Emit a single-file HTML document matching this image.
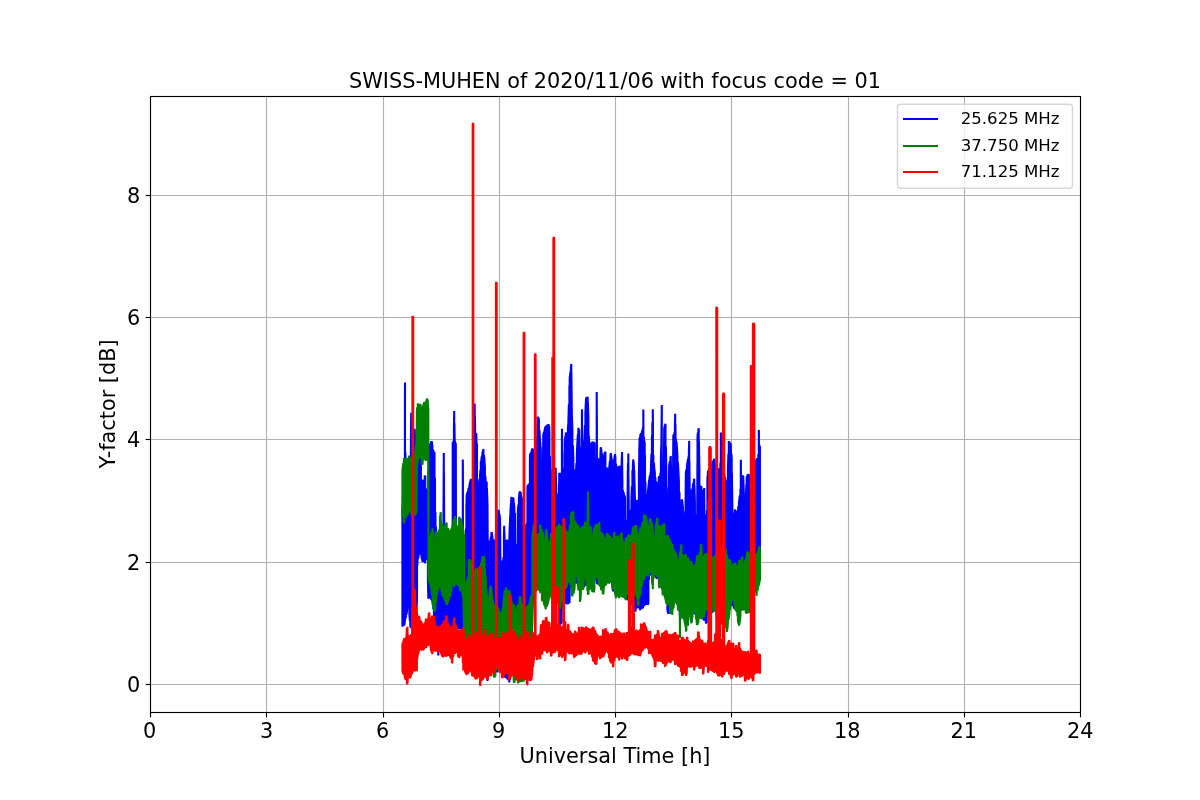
<!DOCTYPE html>
<html lang="en"><head><meta charset="utf-8"><title>SWISS-MUHEN Y-factor</title>
<style>html,body{margin:0;padding:0;background:#fff}svg{display:block;will-change:transform}text{font-family:'DejaVu Sans', 'Liberation Sans', sans-serif;fill:#000}</style></head><body>
<svg width="1200" height="800" viewBox="0 0 1200 800">
<rect x="0" y="0" width="1200" height="800" fill="#fff"/>
<g stroke="#b0b0b0" stroke-width="1.11" fill="none">
<line x1="150.5" y1="96.5" x2="150.5" y2="712.5"/>
<line x1="266.5" y1="96.5" x2="266.5" y2="712.5"/>
<line x1="383.5" y1="96.5" x2="383.5" y2="712.5"/>
<line x1="499.5" y1="96.5" x2="499.5" y2="712.5"/>
<line x1="615.5" y1="96.5" x2="615.5" y2="712.5"/>
<line x1="731.5" y1="96.5" x2="731.5" y2="712.5"/>
<line x1="848.5" y1="96.5" x2="848.5" y2="712.5"/>
<line x1="964.5" y1="96.5" x2="964.5" y2="712.5"/>
<line x1="1080.5" y1="96.5" x2="1080.5" y2="712.5"/>
<line x1="150.5" y1="684.5" x2="1080.5" y2="684.5"/>
<line x1="150.5" y1="562.5" x2="1080.5" y2="562.5"/>
<line x1="150.5" y1="439.5" x2="1080.5" y2="439.5"/>
<line x1="150.5" y1="317.5" x2="1080.5" y2="317.5"/>
<line x1="150.5" y1="195.5" x2="1080.5" y2="195.5"/>
</g>
<clipPath id="c"><rect x="150" y="96" width="930" height="616"/></clipPath>
<g clip-path="url(#c)" fill="none" stroke-width="2.08" stroke-linejoin="bevel" stroke-linecap="butt">
<polyline stroke="#0000ff" points="402.4,626.1 402.4,508.0 402.5,506.3 402.5,626.7 402.9,623.6 402.9,498.7 403.4,489.7 403.4,624.1 403.9,625.2 403.9,480.6 404.2,475.2 404.2,625.5 404.4,624.4 404.4,471.7 404.5,469.9 404.5,623.9 404.9,620.8 404.9,399.9 405.0,382.4 405.0,620.3 405.4,618.1 405.4,452.4 405.5,469.9 405.5,617.6 405.9,617.3 405.9,469.5 406.4,469.5 406.4,614.6 406.7,613.0 406.7,469.5 406.9,470.5 406.9,611.8 407.4,607.1 407.4,470.5 407.9,469.9 407.9,600.0 408.3,596.2 408.3,469.9 408.4,469.9 408.4,597.7 408.9,606.9 408.9,469.5 409.4,469.5 409.4,614.6 409.9,620.9 409.9,469.1 410.3,469.1 410.3,627.0 410.4,626.8 410.4,469.1 410.7,469.1 410.7,626.1 410.9,628.1 410.9,447.3 411.2,412.8 411.2,627.4 411.4,626.9 411.4,435.8 411.7,470.3 411.7,626.2 411.9,627.8 411.9,469.4 412.0,469.4 412.0,627.5 412.4,627.1 412.4,469.4 412.9,470.2 412.9,624.8 413.4,624.3 413.4,470.2 413.9,470.6 413.9,620.5 414.2,620.1 414.2,470.6 414.4,453.9 414.4,619.9 414.7,619.6 414.7,428.9 414.9,435.7 414.9,619.9 415.2,619.6 415.2,448.7 415.4,449.6 415.4,619.4 415.9,620.0 415.9,452.8 416.4,455.0 416.4,619.5 416.7,619.2 416.7,456.3 416.9,456.8 416.9,603.3 417.0,595.8 417.0,457.2 417.4,457.2 417.4,565.8 417.5,558.3 417.5,457.2 417.9,458.5 417.9,558.9 418.0,558.1 418.0,458.5 418.4,458.5 418.4,557.5 418.9,552.6 418.9,458.3 419.4,458.3 419.4,551.8 419.9,551.6 419.9,457.5 420.0,457.5 420.0,551.5 420.4,553.1 420.4,457.5 420.9,457.5 420.9,554.1 421.0,554.5 421.0,480.5 421.4,480.5 421.4,556.1 421.9,559.4 421.9,480.3 422.4,480.3 422.4,561.4 422.5,561.8 422.5,480.3 422.9,481.0 422.9,561.4 423.4,561.2 423.4,481.0 423.9,480.6 423.9,560.3 424.4,560.1 424.4,480.6 424.6,480.6 424.6,560.0 424.7,559.9 424.7,475.6 424.9,476.3 424.9,562.9 425.0,562.8 425.0,476.3 425.3,476.3 425.3,561.0 425.4,560.4 425.4,490.3 425.9,490.2 425.9,554.5 426.4,551.5 426.4,490.2 426.5,490.2 426.5,550.9 426.9,555.4 426.9,489.4 427.4,489.4 427.4,558.9 427.5,559.6 427.5,489.4 427.9,490.1 427.9,578.7 428.2,593.3 428.2,490.1 428.3,470.1 428.3,598.2 428.4,598.2 428.4,470.1 428.5,470.1 428.5,598.2 428.9,596.5 428.9,456.5 429.2,446.5 429.2,596.5 429.4,596.5 429.4,446.1 429.9,444.9 429.9,597.0 430.4,597.0 430.4,443.9 430.8,443.1 430.8,597.0 430.9,599.1 430.9,442.7 431.4,441.7 431.4,599.5 431.7,599.8 431.7,441.1 431.9,442.7 431.9,597.5 432.0,597.6 432.0,443.3 432.4,445.8 432.4,600.9 432.9,605.1 432.9,449.3 433.3,451.8 433.3,608.4 433.4,609.2 433.4,451.8 433.9,452.2 433.9,614.3 434.4,618.4 434.4,452.2 434.5,452.2 434.5,619.3 434.9,622.1 434.9,477.7 435.0,484.6 435.0,622.9 435.4,623.7 435.4,511.9 435.5,518.7 435.5,623.8 435.9,626.7 435.9,526.9 436.4,535.3 436.4,627.6 436.9,627.8 436.9,543.7 437.0,545.3 437.0,628.0 437.4,628.7 437.4,545.3 437.8,545.3 437.8,629.4 437.9,633.9 437.9,545.3 438.3,545.3 438.3,655.5 438.4,650.1 438.4,545.3 438.8,545.3 438.8,628.5 438.9,629.2 438.9,544.3 439.4,544.3 439.4,629.2 439.9,628.0 439.9,544.0 440.4,544.0 440.4,628.0 440.9,632.7 440.9,545.3 441.4,545.3 441.4,632.7 441.9,630.5 441.9,545.3 442.4,545.3 442.4,630.5 442.9,630.4 442.9,543.9 443.3,543.9 443.3,630.4 443.4,630.4 443.4,525.7 443.8,453.1 443.8,630.4 443.9,628.2 443.9,472.4 444.3,545.0 444.3,628.2 444.4,628.2 444.4,545.0 444.9,545.4 444.9,628.4 445.4,628.4 445.4,545.4 445.9,545.5 445.9,629.4 446.4,629.4 446.4,545.5 446.9,544.9 446.9,628.1 447.4,628.1 447.4,544.9 447.9,545.2 447.9,627.5 448.4,627.5 448.4,545.2 448.9,544.6 448.9,628.3 449.4,628.3 449.4,544.6 449.9,545.4 449.9,628.7 450.4,628.7 450.4,545.4 450.9,545.2 450.9,630.6 451.4,630.6 451.4,545.2 451.9,544.9 451.9,630.7 452.4,630.7 452.4,544.9 452.5,544.9 452.5,630.7 452.7,630.7 452.7,442.9 452.9,442.5 452.9,630.2 453.4,630.2 453.4,441.5 453.7,440.9 453.7,630.2 453.9,628.6 453.9,429.1 454.2,411.0 454.2,628.6 454.4,628.6 454.4,423.1 454.7,441.2 454.7,628.6 454.9,630.6 454.9,441.9 455.4,442.8 455.4,630.6 455.8,630.6 455.8,443.5 455.9,493.3 455.9,630.7 456.0,630.7 456.0,544.3 456.4,544.3 456.4,630.7 456.9,628.7 456.9,545.1 457.4,545.1 457.4,628.7 457.9,628.7 457.9,545.1 458.4,545.1 458.4,628.7 458.9,627.7 458.9,545.5 459.4,545.5 459.4,627.7 459.9,628.8 459.9,545.0 460.4,545.0 460.4,628.8 460.9,628.7 460.9,542.8 461.4,542.8 461.4,628.7 461.9,628.1 461.9,545.2 462.0,545.2 462.0,628.1 462.3,633.9 462.3,545.2 462.4,528.0 462.4,635.8 462.8,643.5 462.8,459.4 462.9,474.9 462.9,644.8 463.3,652.4 463.3,543.5 463.4,543.5 463.4,652.6 463.9,654.2 463.9,545.4 464.4,545.4 464.4,655.0 464.9,654.9 464.9,545.3 465.4,545.3 465.4,655.6 465.5,655.8 465.5,545.3 465.9,528.4 465.9,657.7 466.4,658.4 466.4,507.6 466.7,495.1 466.7,658.9 466.9,661.4 466.9,494.0 467.4,493.4 467.4,662.1 467.5,662.3 467.5,493.3 467.9,491.3 467.9,662.0 468.4,662.7 468.4,489.0 468.9,487.7 468.9,661.2 469.4,662.0 469.4,485.4 469.9,483.0 469.9,668.1 470.0,668.3 470.0,482.6 470.4,480.8 470.4,668.4 470.8,668.6 470.8,478.9 470.9,480.4 470.9,663.2 471.4,663.4 471.4,485.4 471.6,487.4 471.6,663.5 471.9,665.4 471.9,484.1 472.4,480.8 472.4,665.7 472.9,664.9 472.9,478.8 473.4,475.6 473.4,665.2 473.9,665.1 473.9,471.1 474.2,469.2 474.2,665.2 474.4,665.3 474.4,442.9 474.7,403.4 474.7,665.4 474.9,667.6 474.9,416.3 475.2,433.6 475.2,667.7 475.4,667.8 475.4,433.6 475.9,433.0 475.9,665.5 476.2,665.6 476.2,433.0 476.4,436.3 476.4,665.7 476.9,666.2 476.9,443.3 477.0,445.0 477.0,666.2 477.4,666.4 477.4,478.8 477.6,495.7 477.6,666.5 477.9,665.8 477.9,496.7 478.3,496.9 478.3,665.9 478.4,666.0 478.4,495.7 478.9,489.3 478.9,667.2 479.4,667.4 479.4,483.6 479.9,478.8 479.9,670.2 480.0,670.2 480.0,477.6 480.4,469.7 480.4,670.4 480.8,670.6 480.8,461.8 480.9,461.3 480.9,669.4 481.4,669.6 481.4,458.8 481.9,455.9 481.9,672.8 482.4,673.0 482.4,453.4 482.9,450.9 482.9,668.2 483.3,668.3 483.3,448.9 483.4,449.8 483.4,668.4 483.9,670.0 483.9,454.8 484.4,459.4 484.4,670.2 484.5,670.2 484.5,460.3 484.9,467.3 484.9,671.2 485.4,671.4 485.4,476.2 485.8,483.2 485.8,671.6 485.9,672.7 485.9,482.5 486.4,482.3 486.4,672.9 486.5,673.0 486.5,482.2 486.7,482.1 486.7,675.1 486.9,674.7 486.9,488.0 487.4,500.9 487.4,679.9 487.5,681.0 487.5,503.4 487.7,543.4 487.7,678.9 487.9,677.8 487.9,540.9 488.4,540.9 488.4,672.5 488.5,671.5 488.5,540.9 488.9,542.7 488.9,670.6 489.4,670.3 489.4,542.7 489.9,543.3 489.9,673.8 490.4,673.4 490.4,540.4 490.9,536.6 490.9,668.2 491.4,667.9 491.4,533.7 491.7,532.0 491.7,667.7 491.9,670.8 491.9,533.9 492.4,536.8 492.4,670.5 492.9,667.2 492.9,539.1 493.3,541.4 493.3,667.0 493.4,666.9 493.4,541.5 493.9,541.7 493.9,666.3 494.4,666.0 494.4,542.1 494.9,543.3 494.9,666.5 495.0,666.5 495.0,543.3 495.4,539.3 495.4,666.7 495.9,666.4 495.9,534.0 496.4,529.0 496.4,666.7 496.9,672.1 496.9,522.5 497.4,517.5 497.4,672.4 497.9,667.2 497.9,513.8 498.3,509.8 498.3,667.4 498.4,667.5 498.4,510.2 498.9,511.7 498.9,668.8 499.4,669.1 499.4,514.0 499.9,518.0 499.9,668.0 500.0,668.1 500.0,518.4 500.4,559.6 500.4,668.3 500.4,668.3 500.4,561.6 500.9,561.9 500.9,669.2 501.4,669.5 501.4,561.9 501.9,561.4 501.9,669.3 502.4,669.6 502.4,561.4 502.9,561.0 502.9,672.9 503.3,673.1 503.3,561.0 503.4,557.0 503.4,673.2 503.9,673.2 503.9,537.8 504.2,525.8 504.2,673.4 504.4,673.5 504.4,532.1 504.7,541.7 504.7,673.6 504.9,677.6 504.9,540.5 505.4,540.5 505.4,677.9 505.9,671.3 505.9,541.4 506.4,541.4 506.4,671.6 506.9,678.7 506.9,540.2 507.4,540.2 507.4,679.0 507.5,679.0 507.5,540.2 507.9,540.9 507.9,678.1 508.2,678.3 508.2,540.6 508.4,540.4 508.4,680.2 508.9,679.7 508.9,540.6 509.2,540.3 509.2,682.5 509.4,680.6 509.4,535.3 509.9,522.6 509.9,679.8 510.0,678.8 510.0,520.1 510.2,516.4 510.2,676.9 510.4,676.9 510.4,512.8 510.9,503.2 510.9,672.5 511.2,672.4 511.2,497.7 511.4,497.6 511.4,672.3 511.9,672.8 511.9,497.8 512.2,497.6 512.2,672.8 512.4,672.7 512.4,497.7 512.9,498.2 512.9,672.5 513.4,672.4 513.4,498.4 513.5,498.4 513.5,672.3 513.9,674.0 513.9,502.5 514.4,508.1 514.4,673.8 514.9,671.7 514.9,513.0 515.0,514.1 515.0,671.7 515.4,671.6 515.4,544.0 515.4,545.5 515.4,671.6 515.9,670.7 515.9,547.0 516.4,547.0 516.4,670.6 516.9,670.8 516.9,546.9 517.4,546.9 517.4,670.6 517.5,670.6 517.5,546.9 517.8,511.9 517.8,670.5 517.9,675.0 517.9,510.6 518.4,504.7 518.4,674.9 518.9,671.3 518.9,499.2 519.4,493.3 519.4,671.2 519.5,671.1 519.5,492.1 519.9,492.1 519.9,670.2 520.0,670.2 520.0,492.1 520.4,492.3 520.4,670.2 520.5,670.2 520.5,492.3 520.9,494.3 520.9,669.9 521.4,669.9 521.4,496.8 521.7,498.3 521.7,669.9 521.9,670.5 521.9,498.1 522.4,500.8 522.4,670.5 522.9,669.7 522.9,503.2 523.0,503.8 523.0,669.7 523.4,669.7 523.4,510.4 523.9,519.9 523.9,672.5 524.2,672.5 524.2,524.9 524.4,524.9 524.4,672.5 524.9,673.9 524.9,525.5 525.4,525.5 525.4,673.9 525.9,671.2 525.9,525.5 526.4,525.5 526.4,671.2 526.9,669.8 526.9,523.9 527.1,523.4 527.1,669.8 527.4,669.8 527.4,494.6 527.5,485.6 527.5,669.8 527.9,671.7 527.9,486.0 528.3,485.1 528.3,671.7 528.4,671.7 528.4,485.0 528.9,484.4 528.9,674.0 529.4,674.0 529.4,484.0 529.5,483.9 529.5,674.0 529.9,671.3 529.9,460.1 530.0,454.1 530.0,671.3 530.4,671.3 530.4,453.6 530.9,453.2 530.9,671.8 531.0,671.8 531.0,453.0 531.4,452.5 531.4,655.4 531.5,651.3 531.5,452.4 531.9,449.6 531.9,634.2 532.4,613.7 532.4,448.6 532.5,448.4 532.5,609.6 532.9,598.3 532.9,449.6 533.0,449.7 533.0,594.2 533.4,594.2 533.4,450.2 533.9,451.1 533.9,589.0 534.0,589.0 534.0,451.2 534.4,449.6 534.4,589.0 534.9,587.4 534.9,449.0 535.4,447.0 535.4,587.4 535.9,588.9 535.9,443.1 536.4,441.1 536.4,588.9 536.9,588.4 536.9,439.4 537.0,439.0 537.0,588.4 537.4,588.4 537.4,426.1 537.7,416.5 537.7,588.4 537.9,587.6 537.9,417.9 538.4,417.9 538.4,587.6 538.7,587.6 538.7,417.9 538.9,421.1 538.9,587.9 539.4,587.9 539.4,429.7 539.9,438.8 539.9,587.6 540.0,587.6 540.0,440.5 540.4,443.8 540.4,587.6 540.8,587.6 540.8,447.2 540.9,458.8 540.9,590.4 541.0,590.4 541.0,472.8 541.4,473.4 541.4,590.4 541.9,590.1 541.9,473.1 542.4,473.1 542.4,590.1 542.9,590.8 542.9,473.4 543.3,434.4 543.3,590.8 543.4,590.8 543.4,434.1 543.9,432.6 543.9,587.4 544.4,587.4 544.4,431.0 544.9,428.6 544.9,591.4 545.0,591.4 545.0,428.3 545.4,427.0 545.4,591.4 545.8,591.4 545.8,425.7 545.9,425.9 545.9,587.5 546.4,587.5 546.4,425.9 546.9,425.8 546.9,587.9 547.4,587.9 547.4,425.8 547.9,424.2 547.9,592.4 548.4,592.4 548.4,424.2 548.9,425.9 548.9,588.7 549.2,588.7 549.2,425.9 549.4,434.5 549.4,588.7 549.9,588.9 549.9,456.1 550.3,473.2 550.3,588.9 550.4,588.9 550.4,473.1 550.9,471.3 550.9,588.1 551.4,588.1 551.4,470.4 551.9,470.2 551.9,590.8 552.0,590.8 552.0,470.0 552.4,470.1 552.4,590.8 552.9,589.2 552.9,470.1 553.4,470.2 553.4,589.2 553.9,590.5 553.9,470.8 554.4,470.9 554.4,590.5 554.9,587.5 554.9,468.4 555.0,468.4 555.0,587.5 555.4,587.7 555.4,468.5 555.8,468.6 555.8,587.9 555.9,589.4 555.9,476.1 556.2,494.3 556.2,589.5 556.4,589.6 556.4,494.6 556.9,495.1 556.9,592.7 557.4,593.0 557.4,495.1 557.9,495.0 557.9,590.1 558.4,590.3 558.4,495.0 558.8,494.7 558.8,590.5 558.9,590.7 558.9,488.9 559.0,483.6 559.0,590.8 559.2,604.0 559.2,473.0 559.4,473.3 559.4,617.2 559.5,623.8 559.5,473.5 559.9,473.6 559.9,623.9 560.4,623.9 560.4,474.4 560.9,474.8 560.9,623.1 561.4,623.1 561.4,475.5 561.5,475.7 561.5,623.1 561.9,601.4 561.9,438.1 562.0,428.7 562.0,594.8 562.1,594.4 562.1,468.0 562.4,469.7 562.4,593.6 562.9,591.2 562.9,468.3 563.4,468.3 563.4,589.8 563.9,584.9 563.9,470.1 564.1,470.1 564.1,584.3 564.4,583.5 564.4,456.0 564.5,451.3 564.5,583.2 564.7,591.2 564.7,441.8 564.9,440.0 564.9,598.9 565.0,602.9 565.0,439.1 565.4,435.8 565.4,602.9 565.8,602.9 565.8,432.5 565.9,433.0 565.9,603.1 566.4,603.1 566.4,434.7 566.9,436.0 566.9,603.8 567.0,603.8 567.0,436.4 567.4,432.2 567.4,603.8 567.9,603.2 567.9,427.9 568.3,423.8 568.3,603.2 568.4,603.2 568.4,420.6 568.9,404.4 568.9,602.6 569.4,602.6 569.4,388.3 569.5,385.1 569.5,602.6 569.7,594.6 569.7,378.7 569.9,376.0 569.9,587.0 570.0,583.0 570.0,375.2 570.4,371.9 570.4,583.0 570.9,584.9 570.9,367.3 571.3,363.9 571.3,584.9 571.4,584.9 571.4,373.3 571.8,410.6 571.8,584.9 571.9,587.8 571.9,415.1 572.4,430.4 572.4,587.8 572.9,584.9 572.9,445.0 573.4,460.4 573.4,584.9 573.7,584.9 573.7,469.6 573.9,470.4 573.9,582.7 574.4,582.7 574.4,471.6 574.9,473.1 574.9,582.6 575.4,582.6 575.4,474.2 575.8,475.2 575.8,582.6 575.9,582.6 575.9,473.2 576.4,463.0 576.4,582.6 576.9,583.0 576.9,452.4 577.4,442.1 577.4,583.0 577.5,583.0 577.5,440.0 577.9,434.1 577.9,582.6 578.3,582.6 578.3,427.9 578.4,428.1 578.4,582.6 578.9,584.4 578.9,429.5 579.3,430.5 579.3,584.4 579.4,584.4 579.4,436.5 579.6,448.5 579.6,584.4 579.9,586.2 579.9,447.0 580.0,447.0 580.0,586.2 580.4,586.2 580.4,447.0 580.9,447.7 580.9,585.6 581.4,585.6 581.4,447.7 581.6,447.7 581.6,585.6 581.9,582.5 581.9,419.6 582.0,409.2 582.0,582.5 582.4,582.5 582.4,440.4 582.5,448.2 582.5,582.5 582.9,582.6 582.9,447.3 583.4,445.8 583.4,582.6 583.9,586.5 583.9,443.0 584.2,442.1 584.2,586.5 584.4,586.5 584.4,437.1 584.9,425.4 584.9,585.1 585.4,585.1 585.4,412.9 585.9,401.0 585.9,582.4 586.0,582.4 586.0,398.5 586.4,398.2 586.4,582.4 586.7,582.4 586.7,398.0 586.9,397.0 586.9,582.4 587.4,582.4 587.4,397.2 587.7,397.4 587.7,582.4 587.9,585.5 587.9,402.9 588.4,418.6 588.4,585.5 588.9,585.2 588.9,435.6 589.2,445.0 589.2,585.2 589.4,585.2 589.4,444.9 589.9,444.1 589.9,583.2 590.0,583.2 590.0,444.1 590.4,443.8 590.4,583.0 590.9,582.5 590.9,443.6 591.4,443.2 591.4,582.3 591.9,582.4 591.9,442.8 592.4,442.4 592.4,582.2 592.5,582.1 592.5,442.3 592.9,441.9 592.9,583.4 593.4,583.2 593.4,442.0 593.9,442.8 593.9,580.7 594.4,580.5 594.4,442.9 594.5,442.9 594.5,580.4 594.7,580.3 594.7,467.9 594.9,467.5 594.9,580.4 595.4,580.1 595.4,467.5 595.9,467.6 595.9,579.7 596.4,579.5 596.4,467.6 596.4,456.8 596.4,579.5 596.7,579.3 596.7,392.1 596.9,424.7 596.9,583.8 597.1,583.7 597.1,459.0 597.4,459.0 597.4,583.5 597.9,580.3 597.9,458.8 598.4,458.8 598.4,580.1 598.9,584.0 598.9,461.5 599.4,461.5 599.4,583.7 599.9,578.8 599.9,461.5 600.0,459.9 600.0,578.7 600.4,578.7 600.4,453.6 600.8,447.2 600.8,578.7 600.9,584.4 600.9,447.7 601.4,450.7 601.4,584.4 601.9,577.4 601.9,453.7 602.4,456.8 602.4,577.4 602.9,578.5 602.9,459.5 603.0,460.1 603.0,578.5 603.4,578.5 603.4,458.6 603.9,455.1 603.9,577.8 604.4,577.8 604.4,453.1 604.9,453.0 604.9,577.7 605.3,577.7 605.3,451.5 605.4,454.3 605.4,577.7 605.9,579.6 605.9,468.5 606.4,468.5 606.4,579.6 606.9,580.6 606.9,468.3 607.4,468.3 607.4,580.6 607.9,578.6 607.9,468.5 608.4,468.5 608.4,578.6 608.9,580.4 608.9,468.5 609.1,468.5 609.1,580.4 609.4,580.4 609.4,466.0 609.9,460.6 609.9,578.4 610.4,578.4 610.4,456.4 610.8,453.0 610.8,578.4 610.9,580.0 610.9,454.4 611.4,457.3 611.4,580.0 611.9,581.1 611.9,459.7 612.0,460.2 612.0,581.1 612.4,587.5 612.4,462.5 612.5,463.1 612.5,589.1 612.8,589.1 612.8,464.7 612.9,464.9 612.9,590.8 613.4,590.8 613.4,462.7 613.9,460.8 613.9,585.9 614.0,585.9 614.0,460.3 614.4,458.6 614.4,583.5 614.5,582.9 614.5,458.2 614.9,454.3 614.9,583.7 615.0,583.8 615.0,453.9 615.4,457.3 615.4,584.0 615.9,583.4 615.9,463.6 616.4,467.9 616.4,583.6 616.9,585.1 616.9,471.9 617.0,472.8 617.0,585.2 617.4,585.4 617.4,471.5 617.9,469.0 617.9,584.8 618.4,585.1 618.4,467.4 618.9,466.7 618.9,585.6 619.2,585.8 619.2,465.7 619.4,466.4 619.4,585.9 619.9,586.3 619.9,468.0 620.0,468.4 620.0,586.4 620.4,586.5 620.4,469.7 620.5,470.1 620.5,586.6 620.9,587.2 620.9,468.8 621.4,467.1 621.4,587.5 621.5,587.5 621.5,466.5 621.9,455.3 621.9,586.8 622.0,586.9 622.0,452.1 622.4,482.5 622.4,587.0 622.5,587.1 622.5,490.1 622.9,490.7 622.9,587.1 623.4,587.3 623.4,492.0 623.9,493.9 623.9,590.1 624.4,590.3 624.4,495.3 624.5,495.6 624.5,590.4 624.9,596.3 624.9,497.0 625.0,497.2 625.0,598.3 625.3,598.3 625.3,520.5 625.4,520.5 625.4,598.3 625.9,598.7 625.9,520.6 626.4,520.6 626.4,598.7 626.9,598.5 626.9,520.1 627.4,520.1 627.4,598.5 627.4,598.5 627.4,520.1 627.8,470.1 627.8,598.5 627.9,600.5 627.9,465.9 628.0,462.8 628.0,600.5 628.3,595.7 628.3,453.5 628.4,465.2 628.4,594.1 628.5,592.5 628.5,476.9 628.8,512.0 628.8,592.6 628.9,589.8 628.9,513.1 629.4,512.5 629.4,590.1 629.9,591.2 629.9,511.9 630.4,511.2 630.4,591.5 630.9,592.9 630.9,510.3 631.0,510.2 631.0,592.9 631.4,593.1 631.4,499.5 631.9,486.0 631.9,591.4 632.4,591.6 632.4,472.7 632.5,470.0 632.5,591.7 632.9,593.0 632.9,464.4 633.3,459.4 633.3,593.2 633.4,593.2 633.4,460.5 633.9,466.7 633.9,593.1 634.2,593.2 634.2,470.0 634.4,478.0 634.4,593.3 634.5,593.4 634.5,481.9 634.9,497.5 634.9,608.8 635.0,611.6 635.0,501.4 635.4,501.0 635.4,611.6 635.9,606.4 635.9,500.8 636.4,500.3 636.4,606.4 636.7,606.4 636.7,500.0 636.9,501.1 636.9,607.5 637.4,607.5 637.4,503.6 637.9,506.5 637.9,606.8 638.3,606.8 638.3,508.5 638.4,502.8 638.4,606.8 638.9,607.9 638.9,472.7 639.4,444.4 639.4,607.9 639.5,607.9 639.5,438.7 639.9,437.5 639.9,609.6 640.3,609.6 640.3,434.5 640.4,434.5 640.4,609.6 640.9,607.4 640.9,433.6 641.0,433.6 641.0,607.4 641.4,607.1 641.4,433.6 641.5,433.6 641.5,607.1 641.9,608.4 641.9,431.9 642.4,430.1 642.4,608.1 642.9,607.9 642.9,428.4 642.9,427.2 642.9,606.0 643.3,605.8 643.3,409.4 643.4,415.5 643.4,605.7 643.8,605.5 643.8,436.6 643.9,437.3 643.9,605.7 644.4,605.4 644.4,440.9 644.7,443.1 644.7,605.2 644.9,604.3 644.9,454.2 645.0,459.7 645.0,604.3 645.4,604.2 645.4,481.5 645.8,503.3 645.8,604.1 645.9,604.3 645.9,504.0 646.4,506.7 646.4,604.2 646.7,604.1 646.7,508.4 646.9,504.6 646.9,604.0 647.4,603.9 647.4,498.4 647.9,492.5 647.9,604.4 648.0,604.3 648.0,491.2 648.3,488.0 648.3,604.3 648.4,599.8 648.4,486.9 648.9,482.7 648.9,579.8 649.0,575.4 649.0,481.6 649.2,479.5 649.2,575.4 649.4,575.4 649.4,478.7 649.9,475.7 649.9,572.8 650.4,572.8 650.4,473.8 650.8,472.3 650.8,572.8 650.9,574.7 650.9,469.9 651.4,453.9 651.4,574.7 651.9,574.9 651.9,438.3 652.0,435.1 652.0,574.9 652.3,575.1 652.3,425.5 652.4,422.3 652.4,575.1 652.8,575.4 652.8,409.2 652.9,418.5 652.9,576.0 653.2,576.2 653.2,454.6 653.4,456.4 653.4,576.3 653.9,573.6 653.9,462.8 654.2,466.5 654.2,573.8 654.4,573.9 654.4,468.5 654.9,473.4 654.9,574.7 655.3,575.0 655.3,477.5 655.4,478.1 655.4,575.0 655.9,577.5 655.9,481.5 656.4,484.7 656.4,577.8 656.7,578.0 656.7,486.5 656.9,489.6 656.9,578.0 657.4,578.3 657.4,495.9 657.5,497.1 657.5,578.3 657.9,576.4 657.9,490.3 658.4,481.9 658.4,576.7 658.7,576.9 658.7,476.9 658.9,476.5 658.9,578.2 659.4,578.5 659.4,479.7 659.9,484.5 659.9,584.3 660.0,584.4 660.0,485.2 660.4,472.8 660.4,585.3 660.9,579.9 660.9,457.9 661.3,445.5 661.3,580.8 661.4,581.0 661.4,437.4 661.8,405.0 661.8,581.8 661.9,588.1 661.9,469.4 661.9,482.3 661.9,588.1 662.4,589.1 662.4,485.5 662.9,484.8 662.9,584.0 663.4,585.1 663.4,484.8 663.7,484.8 663.7,585.8 663.9,591.2 663.9,464.3 664.2,427.9 664.2,591.9 664.4,592.3 664.4,427.6 664.9,425.0 664.9,588.1 665.4,589.1 665.4,424.2 665.5,424.1 665.5,589.4 665.9,592.6 665.9,446.4 666.4,471.9 666.4,593.6 666.7,594.3 666.7,487.2 666.9,502.1 666.9,593.3 667.0,593.5 667.0,502.1 667.4,502.1 667.4,607.9 667.5,611.5 667.5,502.1 667.9,502.2 667.9,613.1 668.4,613.1 668.4,502.2 668.8,501.7 668.8,613.1 668.9,612.9 668.9,490.5 669.2,464.6 669.2,612.9 669.4,612.9 669.4,463.4 669.9,461.3 669.9,611.8 670.4,611.8 670.4,458.4 670.8,456.0 670.8,611.8 670.9,612.2 670.9,462.4 671.1,480.8 671.1,612.2 671.4,612.2 671.4,480.8 671.7,480.8 671.7,612.2 671.9,608.7 671.9,483.3 672.0,483.3 672.0,604.4 672.4,604.2 672.4,483.3 672.9,482.0 672.9,598.7 673.0,598.7 673.0,482.0 673.3,435.7 673.3,598.5 673.4,598.5 673.4,435.4 673.9,434.7 673.9,597.8 674.4,597.5 674.4,433.1 674.8,432.0 674.8,597.3 674.9,596.6 674.9,426.1 675.2,413.7 675.2,596.5 675.4,596.4 675.4,424.3 675.6,437.6 675.6,596.2 675.9,600.5 675.9,439.2 676.0,439.8 676.0,600.4 676.4,601.2 676.4,442.0 676.7,443.7 676.7,601.8 676.9,597.5 676.9,446.9 677.4,455.2 677.4,598.5 677.9,606.2 677.9,462.2 678.3,468.8 678.3,607.0 678.4,607.2 678.4,470.8 678.9,482.1 678.9,601.9 679.4,602.9 679.4,491.8 679.5,493.7 679.5,603.1 679.9,616.9 679.9,501.6 680.0,503.5 680.0,619.5 680.4,619.5 680.4,503.1 680.9,501.5 680.9,615.5 681.4,615.5 681.4,501.0 681.9,499.5 681.9,615.7 682.0,615.7 682.0,499.4 682.4,502.8 682.4,609.3 682.5,607.7 682.5,503.6 682.9,507.8 682.9,607.9 683.3,607.8 683.3,511.2 683.4,517.1 683.4,607.8 683.5,607.7 683.5,524.2 683.9,524.5 683.9,613.8 684.4,613.7 684.4,524.5 684.9,524.9 684.9,608.5 685.4,608.4 685.4,524.9 685.8,473.2 685.8,608.3 685.9,613.0 685.9,472.9 686.4,469.4 686.4,612.9 686.9,606.9 686.9,466.3 687.4,462.9 687.4,606.8 687.5,606.7 687.5,462.2 687.9,459.1 687.9,608.0 688.4,607.8 688.4,457.4 688.8,456.2 688.8,607.7 688.9,612.7 688.9,452.1 689.2,440.9 689.2,612.6 689.4,612.6 689.4,461.3 689.7,491.8 689.7,612.5 689.9,607.8 689.9,491.0 690.0,490.9 690.0,607.8 690.4,607.9 690.4,490.6 690.9,490.8 690.9,606.4 691.4,606.5 691.4,490.5 691.9,490.6 691.9,607.0 692.0,607.1 692.0,490.5 692.4,488.5 692.4,607.2 692.9,606.9 692.9,485.4 693.4,482.9 693.4,607.1 693.9,608.5 693.9,480.3 694.2,478.8 694.2,608.6 694.4,608.7 694.4,485.4 694.9,501.5 694.9,613.8 695.3,613.9 695.3,514.6 695.4,519.8 695.4,613.9 695.5,614.0 695.5,526.0 695.9,526.9 695.9,610.2 696.4,610.3 696.4,526.9 696.9,526.6 696.9,609.7 697.2,609.8 697.2,525.2 697.4,464.3 697.4,609.9 697.5,609.9 697.5,436.6 697.9,432.7 697.9,613.4 698.4,613.6 698.4,429.9 698.7,428.2 698.7,613.7 698.9,608.4 698.9,441.3 699.4,469.7 699.4,608.6 699.7,608.7 699.7,486.7 699.9,486.3 699.9,614.7 700.4,614.8 700.4,486.7 700.9,485.9 700.9,612.4 701.3,612.5 701.3,486.2 701.4,486.8 701.4,612.5 701.9,609.5 701.9,490.2 702.4,493.1 702.4,609.7 702.5,609.7 702.5,493.7 702.9,493.6 702.9,610.6 703.0,610.7 703.0,493.2 703.3,492.0 703.3,619.5 703.4,619.5 703.4,491.6 703.9,489.2 703.9,619.9 704.2,619.9 704.2,488.0 704.4,508.9 704.4,619.9 704.5,619.9 704.5,516.7 704.9,516.3 704.9,619.1 705.4,619.1 705.4,516.3 705.9,514.8 705.9,622.9 706.4,622.9 706.4,514.8 706.7,514.8 706.7,622.9 706.9,611.9 706.9,517.1 707.0,510.2 707.0,608.3 707.4,608.3 707.4,482.4 707.5,475.4 707.5,608.3 707.9,608.7 707.9,472.0 708.4,470.3 708.4,608.7 708.9,613.0 708.9,470.2 709.0,469.8 709.0,613.0 709.4,613.0 709.4,469.1 709.9,468.1 709.9,607.9 710.4,607.9 710.4,467.2 710.9,464.7 710.9,612.3 711.4,612.3 711.4,463.8 711.7,463.3 711.7,612.3 711.9,612.7 711.9,464.5 712.4,463.3 712.4,612.7 712.9,607.8 712.9,462.0 713.4,460.7 713.4,607.8 713.9,609.0 713.9,459.5 714.2,458.8 714.2,609.0 714.4,609.0 714.4,460.5 714.9,464.4 714.9,607.9 715.0,607.9 715.0,465.3 715.4,468.8 715.4,607.8 715.5,607.7 715.5,469.6 715.9,470.2 715.9,607.5 716.4,607.3 716.4,470.2 716.9,470.4 716.9,613.1 717.4,612.9 717.4,470.4 717.9,469.3 717.9,607.3 718.4,607.2 718.4,469.3 718.9,468.8 718.9,611.7 719.4,611.5 719.4,468.8 719.9,469.9 719.9,607.0 720.3,606.9 720.3,469.9 720.4,462.4 720.4,606.8 720.8,606.7 720.8,432.4 720.9,437.3 720.9,605.8 721.3,605.7 721.3,459.3 721.4,459.8 721.4,605.6 721.9,605.6 721.9,462.4 722.4,464.8 722.4,605.4 722.9,606.2 722.9,468.1 723.4,470.6 723.4,606.0 723.9,605.8 723.9,472.6 724.4,475.0 724.4,605.7 724.9,604.3 724.9,477.1 725.4,479.5 725.4,604.2 725.8,604.0 725.8,481.4 725.9,480.5 725.9,604.1 726.4,603.9 726.4,480.9 726.9,482.4 726.9,603.9 727.4,603.7 727.4,482.8 727.5,482.9 727.5,603.7 727.9,605.4 727.9,469.5 728.4,453.7 728.4,605.2 728.8,605.1 728.8,441.1 728.9,441.8 728.9,602.8 729.4,602.6 729.4,442.3 729.9,443.1 729.9,603.4 730.0,603.4 730.0,443.2 730.4,443.6 730.4,603.4 730.8,603.4 730.8,444.0 730.9,446.1 730.9,604.9 731.4,604.9 731.4,453.9 731.7,458.5 731.7,604.9 731.9,604.8 731.9,473.1 732.4,509.7 732.4,604.8 732.5,604.8 732.5,517.1 732.9,517.7 732.9,605.3 733.4,605.3 733.4,518.4 733.5,518.5 733.5,605.3 733.9,608.6 733.9,515.6 734.4,512.6 734.4,608.6 734.9,606.5 734.9,510.1 735.0,509.5 735.0,606.5 735.4,606.5 735.4,510.9 735.9,511.0 735.9,603.0 736.4,603.0 736.4,512.8 736.9,516.2 736.9,603.2 737.4,603.2 737.4,518.0 737.5,518.3 737.5,603.2 737.9,604.4 737.9,511.5 738.4,506.2 738.4,604.4 738.9,606.8 738.9,503.4 739.2,500.3 739.2,606.8 739.4,606.8 739.4,498.8 739.9,495.5 739.9,603.6 740.4,603.6 740.4,492.3 740.4,488.7 740.4,603.6 740.8,603.6 740.8,459.7 740.9,462.8 740.9,603.0 741.3,603.0 741.3,475.4 741.4,475.5 741.4,603.0 741.9,603.5 741.9,475.8 742.4,476.3 742.4,603.5 742.9,602.5 742.9,476.1 743.3,476.5 743.3,602.5 743.4,602.5 743.4,479.8 743.9,496.6 743.9,605.2 744.2,605.2 744.2,506.5 744.4,506.2 744.4,605.2 744.9,604.8 744.9,506.1 745.0,506.0 745.0,604.8 745.4,604.0 745.4,505.5 745.5,505.3 745.5,603.8 745.9,603.9 745.9,495.9 746.4,484.1 746.4,602.9 746.7,602.3 746.7,477.1 746.9,476.8 746.9,599.3 747.4,598.3 747.4,475.6 747.9,474.3 747.9,599.3 748.0,599.1 748.0,474.0 748.4,475.5 748.4,598.3 748.9,595.9 748.9,477.3 749.2,478.3 749.2,595.3 749.4,594.9 749.4,477.8 749.9,476.6 749.9,593.8 750.4,592.8 750.4,475.3 750.9,473.5 750.9,591.2 751.4,590.2 751.4,472.2 751.9,470.7 751.9,589.0 752.4,588.0 752.4,469.4 752.9,467.0 752.9,588.5 753.4,587.5 753.4,465.7 753.9,466.3 753.9,590.3 754.4,589.3 754.4,465.0 754.9,462.6 754.9,582.7 755.0,582.5 755.0,462.3 755.4,461.3 755.4,581.9 755.8,581.3 755.8,460.3 755.9,460.8 755.9,582.7 756.4,581.9 756.4,460.6 756.9,458.5 756.9,582.9 757.4,582.1 757.4,458.3 757.9,460.6 757.9,581.2 758.3,580.6 758.3,460.4 758.4,454.3 758.4,580.4 758.8,579.8 758.8,429.9 758.9,431.9 758.9,578.2 759.3,577.6 759.3,445.1 759.4,445.2 759.4,577.5 759.9,576.3 759.9,446.0"/>
<polyline stroke="#008000" points="402.4,516.7 402.4,470.7 402.9,465.9 402.9,514.8 403.0,514.9 403.0,465.6 403.4,462.9 403.4,515.1 403.9,522.5 403.9,460.4 404.2,458.4 404.2,522.7 404.4,522.8 404.4,458.1 404.9,463.9 404.9,517.8 405.0,517.9 405.0,463.7 405.4,463.2 405.4,517.5 405.8,517.1 405.8,462.7 405.9,459.5 405.9,515.9 406.4,515.4 406.4,458.5 406.9,459.3 406.9,515.4 407.4,514.9 407.4,458.3 407.5,458.1 407.5,514.8 407.9,512.3 407.9,459.4 408.4,459.4 408.4,511.8 408.9,511.9 408.9,456.3 409.4,456.2 409.4,511.4 409.9,511.2 409.9,459.3 410.0,459.2 410.0,511.1 410.4,511.3 410.4,459.2 410.8,459.1 410.8,511.4 410.9,511.7 410.9,458.7 411.4,459.1 411.4,512.0 411.9,516.7 411.9,459.4 412.0,459.5 412.0,516.8 412.4,516.9 412.4,459.0 412.9,453.6 412.9,511.2 413.4,511.5 413.4,452.9 413.9,454.2 413.9,512.8 414.2,512.9 414.2,453.8 414.4,453.5 414.4,513.0 414.9,514.6 414.9,452.6 415.4,451.8 415.4,514.9 415.5,514.9 415.5,451.7 415.9,443.8 415.9,513.2 416.4,513.5 416.4,442.9 416.5,442.8 416.5,513.5 416.7,490.3 416.7,442.4 416.9,409.9 416.9,474.5 417.0,462.9 417.0,409.4 417.4,407.1 417.4,462.7 417.8,462.4 417.8,404.9 417.9,403.3 417.9,455.9 418.4,455.6 418.4,404.7 418.7,405.5 418.7,455.4 418.9,458.4 418.9,407.7 419.4,408.2 419.4,458.1 419.9,454.6 419.9,404.2 420.0,404.3 420.0,454.5 420.4,455.0 420.4,404.2 420.9,408.8 420.9,457.8 421.4,458.5 421.4,408.7 421.9,408.2 421.9,464.0 422.4,464.6 422.4,408.1 422.5,408.1 422.5,464.8 422.9,458.6 422.9,406.3 423.0,406.2 423.0,458.7 423.4,458.9 423.4,405.5 423.9,403.1 423.9,458.5 424.0,458.5 424.0,403.0 424.4,402.4 424.4,458.6 424.9,459.9 424.9,403.3 425.4,402.7 425.4,460.1 425.5,460.1 425.5,402.5 425.9,401.9 425.9,460.2 426.0,460.2 426.0,401.8 426.4,401.3 426.4,459.6 426.7,459.2 426.7,400.9 426.9,398.3 426.9,457.6 427.4,457.0 427.4,399.5 427.8,400.4 427.8,456.4 427.9,460.9 427.9,405.0 428.2,407.4 428.2,460.4 428.3,519.4 428.3,408.2 428.4,474.5 428.4,578.4 428.5,579.0 428.5,540.9 428.9,537.8 428.9,580.4 429.4,583.2 429.4,536.6 429.9,537.5 429.9,582.7 430.0,583.3 430.0,537.2 430.4,536.0 430.4,585.6 430.9,587.4 430.9,534.5 431.4,532.9 431.4,590.3 431.7,592.0 431.7,532.0 431.9,530.3 431.9,593.6 432.4,595.6 432.4,528.7 432.5,528.4 432.5,596.1 432.9,605.8 432.9,531.4 433.4,534.4 433.4,608.5 433.9,609.0 433.9,537.9 434.4,540.9 434.4,611.7 434.9,609.7 434.9,544.5 435.0,545.1 435.0,610.2 435.4,606.7 435.4,544.1 435.9,532.3 435.9,601.8 436.4,597.5 436.4,531.1 436.9,538.1 436.9,595.0 437.4,590.7 437.4,536.9 437.5,536.6 437.5,589.9 437.9,590.0 437.9,534.8 438.4,532.2 438.4,588.6 438.9,582.9 438.9,531.7 439.4,529.1 439.4,581.6 439.9,584.8 439.9,517.0 440.0,516.4 440.0,584.5 440.4,586.6 440.4,514.3 440.8,512.2 440.8,588.6 440.9,586.6 440.9,521.5 441.4,523.8 441.4,589.1 441.9,592.7 441.9,524.7 442.4,526.9 442.4,595.2 442.9,595.1 442.9,529.2 443.3,531.0 443.3,597.1 443.4,597.3 443.4,531.0 443.9,525.4 443.9,597.6 444.4,598.3 444.4,525.3 444.9,531.4 444.9,600.0 445.4,600.7 445.4,531.3 445.9,523.2 445.9,602.4 446.4,603.1 446.4,523.1 446.7,523.0 446.7,603.6 446.9,604.9 446.9,531.3 447.4,531.9 447.4,603.4 447.9,602.2 447.9,528.3 448.4,528.9 448.4,600.7 448.9,597.2 448.9,534.8 449.4,535.4 449.4,595.7 449.9,597.5 449.9,533.0 450.0,533.1 450.0,597.2 450.4,595.4 450.4,531.8 450.9,530.0 450.9,592.4 451.4,590.2 451.4,528.3 451.9,528.9 451.9,584.1 452.0,583.6 452.0,528.6 452.4,526.5 452.4,581.8 452.5,581.4 452.5,525.9 452.9,523.3 452.9,579.4 453.4,577.9 453.4,520.7 453.9,520.1 453.9,587.0 454.2,586.1 454.2,518.5 454.4,519.4 454.4,585.5 454.9,582.8 454.9,516.0 455.0,516.5 455.0,582.5 455.4,583.3 455.4,518.4 455.9,523.7 455.9,583.2 456.4,584.2 456.4,526.0 456.7,527.4 456.7,584.8 456.9,581.2 456.9,528.4 457.4,527.5 457.4,582.2 457.9,584.7 457.9,527.0 458.3,526.3 458.3,585.5 458.4,585.6 458.4,526.1 458.5,526.0 458.5,585.8 458.9,582.0 458.9,519.1 459.4,516.7 459.4,582.7 459.9,590.2 459.9,519.9 460.3,517.9 460.3,590.8 460.4,591.0 460.4,518.4 460.9,520.1 460.9,586.7 461.4,587.4 461.4,522.3 461.7,523.7 461.7,587.9 461.9,591.0 461.9,524.8 462.4,527.0 462.4,593.2 462.5,593.6 462.5,527.4 462.9,528.8 462.9,594.8 463.3,596.5 463.3,530.6 463.4,531.1 463.4,601.8 463.9,624.0 463.9,534.1 464.0,534.6 464.0,629.3 464.3,645.2 464.3,592.6 464.4,592.9 464.4,645.4 464.9,646.9 464.9,594.4 465.0,594.7 465.0,647.1 465.4,648.2 465.4,592.7 465.9,583.9 465.9,654.3 466.4,655.6 466.4,581.4 466.9,582.2 466.9,653.6 467.0,653.8 467.0,581.7 467.4,578.9 467.4,654.9 467.9,657.9 467.9,578.8 468.4,575.4 468.4,659.2 468.9,658.7 468.9,561.5 469.2,559.4 469.2,659.5 469.4,660.0 469.4,559.0 469.9,564.6 469.9,664.7 470.0,665.0 470.0,564.4 470.4,563.6 470.4,665.3 470.8,665.5 470.8,562.8 470.9,560.5 470.9,660.5 471.4,660.8 471.4,561.6 471.9,566.6 471.9,670.8 472.4,671.1 472.4,567.7 472.8,568.6 472.8,671.4 472.9,664.5 472.9,569.9 473.4,570.4 473.4,664.9 473.9,668.2 473.9,571.2 474.4,571.7 474.4,668.6 474.7,668.8 474.7,572.1 474.9,571.0 474.9,674.0 475.4,674.4 475.4,570.2 475.9,569.3 475.9,674.7 476.4,675.1 476.4,568.6 476.7,568.1 476.7,675.3 476.9,665.5 476.9,569.3 477.4,570.9 477.4,665.8 477.9,665.8 477.9,569.8 478.3,571.0 478.3,666.1 478.4,666.2 478.4,570.8 478.9,571.2 478.9,669.5 479.4,669.9 479.4,570.1 479.9,570.8 479.9,670.4 480.0,670.5 480.0,570.6 480.4,568.3 480.4,670.4 480.9,666.8 480.9,565.0 481.4,562.1 481.4,666.7 481.9,666.4 481.9,559.9 482.4,557.0 482.4,666.3 482.5,666.2 482.5,556.4 482.9,557.2 482.9,667.4 483.4,667.3 483.4,559.9 483.9,556.1 483.9,669.6 484.0,669.6 484.0,556.7 484.4,559.4 484.4,669.5 484.9,665.9 484.9,568.4 485.0,569.1 485.0,665.9 485.4,665.8 485.4,574.5 485.9,583.4 485.9,671.3 486.4,671.2 486.4,590.3 486.7,594.4 486.7,671.1 486.9,666.9 486.9,595.0 487.4,597.1 487.4,666.8 487.9,669.0 487.9,599.3 488.3,601.0 488.3,668.9 488.4,668.9 488.4,600.6 488.9,599.5 488.9,668.2 489.4,668.1 489.4,597.5 489.9,589.4 489.9,666.4 490.0,666.4 490.0,589.0 490.4,587.4 490.4,666.6 490.8,666.7 490.8,585.8 490.9,586.1 490.9,666.5 491.4,666.7 491.4,588.5 491.9,595.4 491.9,667.4 492.4,667.7 492.4,597.7 492.9,600.8 492.9,668.7 493.3,668.9 493.3,602.7 493.4,603.0 493.4,668.9 493.9,677.4 493.9,604.4 494.4,605.8 494.4,677.6 494.9,675.9 494.9,605.3 495.0,605.6 495.0,676.0 495.4,676.2 495.4,606.1 495.9,608.3 495.9,669.5 496.4,669.8 496.4,608.9 496.9,606.0 496.9,668.9 497.4,669.2 497.4,606.6 497.5,606.7 497.5,669.2 497.9,668.7 497.9,608.5 498.3,609.7 498.3,668.9 498.4,668.9 498.4,610.0 498.9,610.1 498.9,669.6 499.4,669.5 499.4,611.6 499.9,614.4 499.9,671.9 500.0,671.9 500.0,614.7 500.4,613.5 500.4,671.7 500.9,668.1 500.9,614.5 501.4,613.0 501.4,668.0 501.9,669.4 501.9,612.5 502.4,611.0 502.4,669.2 502.5,669.2 502.5,610.7 502.9,608.1 502.9,667.8 503.4,667.7 503.4,604.3 503.9,595.6 503.9,668.4 504.4,668.3 504.4,591.7 504.9,590.5 504.9,667.9 505.0,667.8 505.0,589.8 505.4,591.4 505.4,668.0 505.9,670.1 505.9,587.5 506.4,589.5 506.4,670.3 506.9,668.6 506.9,594.3 507.4,596.3 507.4,668.8 507.5,668.8 507.5,596.7 507.9,591.9 507.9,673.7 508.4,673.9 508.4,590.6 508.9,591.9 508.9,668.8 509.4,669.1 509.4,590.6 509.9,595.4 509.9,669.1 510.0,669.1 510.0,595.1 510.4,596.9 510.4,669.3 510.9,670.2 510.9,598.8 511.4,601.1 511.4,670.4 511.9,670.1 511.9,602.3 512.0,602.7 512.0,670.1 512.4,670.5 512.4,604.6 512.9,605.7 512.9,674.1 513.3,674.5 513.3,607.5 513.4,607.6 513.4,674.6 513.9,682.5 513.9,604.7 514.4,605.2 514.4,683.0 514.9,673.9 514.9,610.9 515.4,611.3 515.4,674.4 515.9,678.9 515.9,612.8 516.4,613.3 516.4,679.4 516.7,679.8 516.7,613.6 516.9,607.0 516.9,675.4 517.4,675.9 517.4,605.0 517.9,606.7 517.9,682.6 518.4,683.1 518.4,604.7 518.9,604.2 518.9,680.4 519.4,680.9 519.4,602.2 519.9,596.6 519.9,680.8 520.0,680.9 520.0,596.2 520.4,597.5 520.4,681.3 520.8,681.7 520.8,598.8 520.9,602.6 520.9,680.2 521.4,680.0 521.4,604.2 521.9,605.3 521.9,680.0 522.4,679.7 522.4,606.9 522.5,607.2 522.5,679.7 522.9,681.8 522.9,607.7 523.4,608.3 523.4,681.5 523.9,680.0 523.9,606.6 524.4,607.1 524.4,679.8 524.9,677.8 524.9,608.4 525.4,609.0 525.4,677.6 525.9,679.7 525.9,608.4 526.4,609.0 526.4,679.5 526.7,679.3 526.7,609.4 526.9,606.9 526.9,676.9 527.4,676.7 527.4,605.4 527.5,605.1 527.5,676.7 527.9,680.2 527.9,606.6 528.4,605.1 528.4,679.3 528.9,678.5 528.9,605.1 529.4,603.5 529.4,677.7 529.9,673.2 529.9,600.5 530.0,600.2 530.0,673.0 530.4,672.3 530.4,599.8 530.9,596.4 530.9,673.7 531.0,673.5 531.0,596.3 531.4,595.9 531.4,653.5 531.9,625.9 531.9,600.2 532.0,600.1 532.0,620.9 532.4,600.9 532.4,545.9 532.5,532.4 532.5,595.9 532.9,596.0 532.9,531.2 533.3,530.8 533.3,592.5 533.4,592.3 533.4,530.7 533.9,523.3 533.9,591.6 534.0,591.5 534.0,523.2 534.4,523.9 534.4,591.0 534.9,592.3 534.9,526.3 535.4,527.2 535.4,591.7 535.9,591.2 535.9,533.5 536.4,534.3 536.4,590.6 536.9,587.7 536.9,534.4 537.0,534.5 537.0,587.6 537.4,587.1 537.4,534.3 537.9,535.6 537.9,590.0 538.3,589.5 538.3,535.4 538.4,535.3 538.4,589.8 538.9,583.4 538.9,534.1 539.4,533.8 539.4,584.9 539.9,591.8 539.9,525.5 540.4,525.2 540.4,593.3 540.9,589.7 540.9,530.0 541.4,529.6 541.4,591.1 541.7,592.0 541.7,529.4 541.9,534.5 541.9,599.5 542.4,601.3 542.4,537.0 542.9,532.1 542.9,599.2 543.4,601.0 543.4,534.6 543.9,542.7 543.9,603.4 544.2,604.5 544.2,544.2 544.4,543.5 544.4,605.2 544.9,605.9 544.9,543.3 545.4,541.6 545.4,607.7 545.8,609.2 545.8,540.3 545.9,530.5 545.9,606.5 546.4,604.5 546.4,528.9 546.9,537.1 546.9,606.5 547.0,606.1 547.0,536.8 547.4,537.8 547.4,604.6 547.9,603.2 547.9,539.8 548.4,541.1 548.4,601.3 548.9,598.4 548.9,542.5 549.2,543.2 549.2,597.2 549.4,596.9 549.4,543.7 549.9,542.8 549.9,592.7 550.0,592.6 550.0,543.0 550.4,542.4 550.4,592.1 550.9,595.0 550.9,534.5 551.4,533.7 551.4,594.4 551.9,599.5 551.9,536.5 552.0,536.4 552.0,599.4 552.4,600.4 552.4,535.8 552.9,540.5 552.9,594.2 553.3,595.2 553.3,539.9 553.4,539.6 553.4,595.5 553.9,594.7 553.9,529.3 554.4,527.6 554.4,595.9 554.9,597.7 554.9,530.0 555.4,528.3 555.4,599.0 555.8,600.0 555.8,527.0 555.9,528.4 555.9,601.2 556.0,601.4 556.0,528.2 556.4,527.6 556.4,601.2 556.9,599.3 556.9,526.9 557.4,526.1 557.4,599.0 557.9,603.3 557.9,527.8 558.4,527.0 558.4,603.0 558.9,598.8 558.9,524.8 559.4,524.0 559.4,598.6 559.9,608.3 559.9,525.4 560.0,525.3 560.0,608.3 560.4,608.0 560.4,527.1 560.9,529.4 560.9,599.0 561.4,598.7 561.4,531.8 561.7,533.2 561.7,598.5 561.9,602.7 561.9,527.7 562.4,526.7 562.4,601.2 562.9,597.9 562.9,530.9 563.4,529.9 563.4,596.4 563.8,595.2 563.8,529.2 563.9,524.6 563.9,590.6 564.4,589.1 564.4,525.6 564.9,529.7 564.9,587.6 565.4,586.1 565.4,530.7 565.9,530.2 565.9,588.5 566.4,587.0 566.4,531.2 566.7,531.9 566.7,586.1 566.9,583.1 566.9,534.4 567.4,533.9 567.4,582.8 567.9,582.0 567.9,533.1 568.4,532.6 568.4,581.7 568.7,581.5 568.7,532.3 568.9,532.2 568.9,580.7 569.4,580.5 569.4,530.5 569.9,526.3 569.9,582.3 570.0,582.2 570.0,526.0 570.4,524.6 570.4,583.8 570.9,584.4 570.9,514.8 571.0,514.4 571.0,584.8 571.4,586.3 571.4,513.1 571.7,512.1 571.7,587.5 571.9,595.4 571.9,518.7 572.4,517.0 572.4,596.4 572.9,590.6 572.9,511.9 573.0,511.6 573.0,590.8 573.3,591.4 573.3,512.3 573.4,512.5 573.4,590.8 573.9,593.5 573.9,520.1 574.4,521.3 574.4,590.4 574.9,580.1 574.9,521.4 575.4,522.6 575.4,577.0 575.8,574.5 575.8,523.6 575.9,525.0 575.9,576.6 576.4,573.5 576.4,526.0 576.7,526.6 576.7,571.7 576.9,571.7 576.9,524.4 577.4,525.4 577.4,575.3 577.9,586.7 577.9,525.2 578.3,526.0 578.3,589.6 578.4,590.4 578.4,526.1 578.9,529.9 578.9,585.1 579.4,588.8 579.4,530.4 579.9,529.0 579.9,601.0 580.0,601.8 580.0,529.1 580.4,528.4 580.4,600.4 580.9,591.8 580.9,530.0 581.4,529.2 581.4,590.0 581.9,586.6 581.9,527.4 582.4,526.6 582.4,584.9 582.9,590.1 582.9,526.9 583.0,526.7 583.0,589.7 583.3,588.7 583.3,527.1 583.4,527.2 583.4,587.9 583.9,577.5 583.9,525.7 584.4,526.3 584.4,573.8 584.9,572.1 584.9,521.9 585.0,522.0 585.0,571.3 585.4,574.7 585.4,522.5 585.8,522.9 585.8,578.0 585.9,579.3 585.9,527.1 586.4,526.5 586.4,583.5 586.9,585.8 586.9,528.6 587.4,528.0 587.4,590.0 587.5,590.8 587.5,527.9 587.9,498.9 587.9,594.4 588.0,594.3 588.0,491.6 588.4,520.8 588.4,594.1 588.5,594.0 588.5,528.1 588.9,525.8 588.9,589.5 589.4,589.2 589.4,527.0 589.9,525.9 589.9,588.7 590.0,588.6 590.0,526.2 590.4,527.0 590.4,588.4 590.8,588.1 590.8,527.8 590.9,533.0 590.9,588.6 591.4,589.1 591.4,534.0 591.9,535.2 591.9,590.8 592.4,591.3 592.4,536.2 592.5,536.4 592.5,591.4 592.9,591.4 592.9,535.4 593.3,534.3 593.3,591.8 593.4,591.1 593.4,534.0 593.9,528.8 593.9,592.3 594.4,588.5 594.4,527.3 594.9,527.5 594.9,580.9 595.4,577.1 595.4,526.0 595.8,524.8 595.8,574.0 595.9,571.8 595.9,526.7 596.2,525.8 596.2,572.7 596.4,573.2 596.4,526.1 596.9,523.9 596.9,576.5 597.4,578.0 597.4,524.8 597.5,524.9 597.5,578.3 597.9,577.8 597.9,528.6 598.4,529.5 598.4,578.8 598.9,584.6 598.9,522.4 599.4,523.3 599.4,585.7 599.9,585.5 599.9,531.8 600.0,532.0 600.0,585.7 600.4,586.6 600.4,532.6 600.9,532.2 600.9,588.7 601.4,589.8 601.4,533.0 601.7,533.4 601.7,590.5 601.9,588.1 601.9,533.3 602.4,534.1 602.4,587.7 602.9,594.5 602.9,534.9 603.4,535.7 603.4,594.2 603.9,586.0 603.9,538.5 604.4,539.3 604.4,585.6 604.9,585.5 604.9,539.0 605.0,539.2 605.0,585.4 605.4,585.1 605.4,538.7 605.8,538.2 605.8,584.8 605.9,584.9 605.9,537.8 606.4,537.1 606.4,584.2 606.9,581.3 606.9,534.0 607.4,533.3 607.4,580.6 607.9,582.8 607.9,535.6 608.3,535.1 608.3,582.2 608.4,582.1 608.4,535.3 608.9,535.4 608.9,583.4 609.4,582.6 609.4,536.3 609.9,536.3 609.9,576.8 610.0,576.6 610.0,536.5 610.4,537.2 610.4,577.2 610.9,581.2 610.9,538.5 611.4,539.4 611.4,581.9 611.7,582.4 611.7,539.9 611.9,538.4 611.9,580.5 612.4,581.2 612.4,537.9 612.9,539.5 612.9,588.4 613.3,589.0 613.3,539.1 613.4,539.0 613.4,589.6 613.9,585.3 613.9,533.0 614.4,532.5 614.4,588.5 614.9,592.6 614.9,536.9 615.0,536.8 615.0,593.2 615.4,595.7 615.4,537.2 615.8,537.6 615.8,598.3 615.9,597.9 615.9,536.4 616.4,536.9 616.4,596.3 616.9,595.7 616.9,537.0 617.4,537.5 617.4,594.1 617.9,591.4 617.9,535.9 618.4,536.4 618.4,589.8 618.9,598.2 618.9,539.7 619.2,540.0 619.2,597.3 619.4,598.1 619.4,540.2 619.9,540.8 619.9,589.8 620.0,590.2 620.0,540.9 620.4,541.1 620.4,591.8 620.9,593.4 620.9,533.1 621.4,533.3 621.4,595.4 621.7,596.6 621.7,533.4 621.9,538.9 621.9,597.1 622.4,594.1 622.4,539.1 622.9,542.2 622.9,597.7 623.4,594.8 623.4,542.4 623.7,542.6 623.7,593.1 623.9,586.9 623.9,543.1 624.2,543.3 624.2,587.8 624.4,588.4 624.4,542.9 624.9,542.1 624.9,597.4 625.4,599.0 625.4,541.3 625.8,540.7 625.8,600.3 625.9,592.0 625.9,538.6 626.4,537.8 626.4,592.4 626.9,594.1 626.9,539.6 627.4,538.8 627.4,594.5 627.9,593.7 627.9,535.9 628.3,535.3 628.3,594.0 628.4,594.0 628.4,535.4 628.9,535.0 628.9,595.2 629.4,595.6 629.4,535.5 629.9,535.7 629.9,596.0 630.0,596.1 630.0,535.8 630.4,536.2 630.4,596.0 630.9,605.0 630.9,540.3 631.4,540.8 631.4,604.8 631.7,604.7 631.7,541.1 631.9,534.2 631.9,595.4 632.4,595.2 632.4,532.4 632.9,528.1 632.9,594.5 633.4,594.3 633.4,526.3 633.9,527.2 633.9,596.3 634.2,596.3 634.2,526.1 634.4,526.5 634.4,596.2 634.9,593.9 634.9,533.4 635.4,534.3 635.4,593.8 635.8,593.7 635.8,535.0 635.9,524.9 635.9,593.4 636.4,594.4 636.4,525.8 636.9,536.5 636.9,597.9 637.4,598.9 637.4,537.4 637.5,537.6 637.5,599.1 637.9,605.1 637.9,537.1 638.3,536.2 638.3,605.9 638.4,605.5 638.4,535.9 638.9,534.1 638.9,597.8 639.4,595.8 639.4,532.9 639.9,529.8 639.9,596.4 640.4,594.4 640.4,528.6 640.8,527.6 640.8,592.8 640.9,589.9 640.9,529.4 641.4,528.2 641.4,586.5 641.7,584.5 641.7,527.5 641.9,524.8 641.9,585.0 642.4,581.6 642.4,523.2 642.5,522.9 642.5,580.9 642.9,578.2 642.9,522.9 643.4,521.3 643.4,577.4 643.9,580.1 643.9,516.1 644.4,514.5 644.4,579.4 644.9,574.5 644.9,514.9 645.0,514.6 645.0,574.4 645.4,574.3 645.4,516.3 645.9,516.2 645.9,572.9 646.4,572.8 646.4,518.3 646.9,525.1 646.9,575.3 647.4,575.1 647.4,527.3 647.5,527.7 647.5,575.1 647.9,576.3 647.9,527.9 648.4,527.7 648.4,576.2 648.9,573.3 648.9,525.6 649.2,525.4 649.2,573.2 649.4,571.9 649.4,525.4 649.9,519.4 649.9,572.8 650.4,569.4 650.4,519.2 650.8,519.0 650.8,566.8 650.9,565.1 650.9,522.5 651.3,522.3 651.3,569.6 651.4,570.7 651.4,522.8 651.9,523.4 651.9,579.2 652.4,584.8 652.4,525.7 652.8,527.5 652.8,589.3 652.9,582.7 652.9,534.1 653.4,536.4 653.4,579.0 653.9,575.5 653.9,535.8 654.2,537.2 654.2,573.3 654.4,573.1 654.4,536.5 654.9,536.2 654.9,574.5 655.4,573.9 655.4,534.4 655.9,525.0 655.9,571.7 656.4,571.1 656.4,523.2 656.7,522.1 656.7,570.7 656.9,576.0 656.9,519.5 657.4,517.7 657.4,576.9 657.9,575.9 657.9,526.3 658.3,524.8 658.3,576.6 658.4,577.2 658.4,525.1 658.9,527.0 658.9,585.3 659.4,588.3 659.4,528.4 659.9,526.1 659.9,584.8 660.0,585.4 660.0,526.3 660.3,526.5 660.3,587.2 660.4,586.3 660.4,526.6 660.9,527.5 660.9,582.6 661.4,578.3 661.4,527.8 661.7,528.0 661.7,575.7 661.9,585.7 661.9,525.5 662.4,525.8 662.4,591.0 662.8,595.3 662.8,526.0 662.9,529.8 662.9,590.8 663.3,595.1 663.3,530.6 663.4,530.9 663.4,595.3 663.9,592.8 663.9,523.4 664.4,524.5 664.4,594.0 664.9,597.9 664.9,536.4 665.4,537.4 665.4,599.1 665.8,600.1 665.8,538.3 665.9,538.2 665.9,601.9 666.4,603.2 666.4,538.4 666.7,538.5 666.7,603.9 666.9,601.6 666.9,535.6 667.4,535.8 667.4,603.0 667.9,604.1 667.9,536.3 668.3,536.5 668.3,605.2 668.4,605.5 668.4,536.7 668.9,538.6 668.9,604.7 669.4,606.1 669.4,540.0 669.9,539.7 669.9,611.4 670.4,612.9 670.4,541.0 670.8,542.1 670.8,614.0 670.9,609.7 670.9,544.3 671.4,545.7 671.4,609.1 671.7,608.7 671.7,546.5 671.9,543.7 671.9,614.4 672.4,613.8 672.4,544.5 672.9,548.9 672.9,608.6 673.3,608.1 673.3,549.5 673.4,549.7 673.4,607.7 673.9,604.8 673.9,550.7 674.4,551.5 674.4,602.8 674.9,602.7 674.9,552.1 675.4,552.9 675.4,600.7 675.8,599.1 675.8,553.6 675.9,552.9 675.9,599.9 676.4,601.6 676.4,554.9 676.9,558.6 676.9,603.2 677.4,604.8 677.4,560.6 677.9,562.2 677.9,609.0 678.3,610.3 678.3,563.8 678.4,563.3 678.4,610.7 678.9,608.5 678.9,560.8 679.4,558.1 679.4,610.6 679.5,611.0 679.5,557.6 679.9,554.6 679.9,632.4 680.0,638.0 680.0,554.1 680.4,551.9 680.4,615.6 680.5,610.0 680.5,551.4 680.8,549.8 680.8,610.5 680.9,617.1 680.9,544.6 681.4,546.6 681.4,617.9 681.9,612.2 681.9,554.1 682.4,556.1 682.4,613.1 682.5,613.2 682.5,556.5 682.9,559.5 682.9,617.1 683.4,618.8 683.4,561.5 683.9,559.8 683.9,618.5 684.2,619.6 684.2,561.0 684.4,560.8 684.4,620.3 684.9,623.9 684.9,555.1 685.4,554.5 685.4,625.7 685.8,627.1 685.8,554.0 685.9,560.9 685.9,631.4 686.4,629.6 686.4,560.3 686.9,558.0 686.9,621.5 687.4,619.7 687.4,557.4 687.9,558.5 687.9,625.5 688.0,625.1 688.0,558.4 688.3,558.0 688.3,620.1 688.4,618.4 688.4,558.2 688.9,560.9 688.9,602.3 689.2,597.2 689.2,561.4 689.4,561.7 689.4,601.3 689.9,611.8 689.9,562.4 690.0,562.6 690.0,613.9 690.4,617.0 690.4,563.2 690.9,561.0 690.9,620.2 691.3,623.4 691.3,561.6 691.4,561.8 691.4,622.7 691.9,621.2 691.9,564.1 692.4,564.9 692.4,617.7 692.5,617.0 692.5,565.1 692.9,566.3 692.9,614.4 693.4,610.9 693.4,566.5 693.9,567.6 693.9,605.9 694.2,603.8 694.2,567.7 694.4,567.8 694.4,605.1 694.9,609.5 694.9,565.4 695.0,565.5 695.0,610.1 695.4,612.8 695.4,563.9 695.9,564.1 695.9,616.7 696.4,620.0 696.4,562.2 696.7,561.0 696.7,622.0 696.9,625.3 696.9,557.5 697.4,555.6 697.4,624.8 697.5,624.7 697.5,555.2 697.9,556.7 697.9,622.9 698.4,622.4 698.4,555.8 698.9,555.5 698.9,618.3 699.4,617.8 699.4,554.6 699.9,553.2 699.9,617.1 700.0,617.0 700.0,553.0 700.3,552.5 700.3,616.8 700.4,616.7 700.4,552.7 700.9,544.1 700.9,618.6 701.4,618.2 701.4,545.2 701.9,556.4 701.9,615.3 702.4,614.9 702.4,557.5 702.9,558.3 702.9,614.6 703.3,614.3 703.3,559.2 703.4,559.2 703.4,614.2 703.9,617.1 703.9,556.4 704.2,556.2 704.2,616.8 704.4,616.3 704.4,556.1 704.9,553.7 704.9,611.8 705.4,610.5 705.4,553.4 705.9,556.9 705.9,610.1 706.4,608.8 706.4,556.6 706.7,556.4 706.7,608.0 706.9,608.4 706.9,553.7 707.4,554.0 707.4,608.9 707.9,609.0 707.9,557.2 708.4,557.5 708.4,609.5 708.9,613.2 708.9,558.2 709.4,558.5 709.4,613.7 709.9,612.4 709.9,557.5 710.0,557.6 710.0,612.5 710.4,612.2 710.4,557.3 710.9,558.0 710.9,613.6 711.4,613.1 711.4,557.7 711.9,558.8 711.9,608.6 712.4,608.1 712.4,558.5 712.9,557.3 712.9,608.0 713.3,607.7 713.3,557.1 713.4,557.0 713.4,607.8 713.9,610.9 713.9,557.3 714.4,556.9 714.4,611.7 714.9,609.5 714.9,556.0 715.4,555.6 715.4,610.3 715.9,612.3 715.9,554.3 716.4,553.9 716.4,613.2 716.9,623.5 716.9,553.9 717.0,553.8 717.0,623.7 717.4,624.4 717.4,553.5 717.9,551.2 717.9,616.1 718.0,616.3 718.0,551.1 718.4,550.8 718.4,616.5 718.9,616.3 718.9,546.6 719.4,546.2 719.4,616.6 719.9,622.7 719.9,550.2 720.4,549.8 720.4,622.9 720.9,620.7 720.9,548.7 721.4,548.4 721.4,621.0 721.7,621.1 721.7,548.2 721.9,548.8 721.9,623.6 722.0,623.6 722.0,548.8 722.4,549.0 722.4,624.4 722.9,621.8 722.9,550.8 723.4,550.9 723.4,622.9 723.9,620.9 723.9,543.7 724.4,543.9 724.4,621.9 724.9,626.0 724.9,548.8 725.4,549.0 725.4,627.0 725.8,627.8 725.8,549.1 725.9,553.3 725.9,625.1 726.4,626.1 726.4,554.7 726.7,555.6 726.7,626.7 726.9,632.0 726.9,556.2 727.4,557.7 727.4,629.7 727.9,622.3 727.9,559.6 728.4,561.0 728.4,619.9 728.9,617.1 728.9,559.4 729.2,560.3 729.2,615.7 729.4,614.4 729.4,560.8 729.9,559.4 729.9,610.2 730.4,606.9 730.4,560.6 730.9,567.9 730.9,603.6 731.4,600.3 731.4,569.2 731.9,566.8 731.9,599.2 732.4,595.9 732.4,568.1 732.5,568.3 732.5,595.2 732.9,598.8 732.9,565.4 733.4,563.8 733.4,600.6 733.9,599.8 733.9,567.1 734.4,565.4 734.4,601.6 734.9,607.9 734.9,563.0 735.0,562.7 735.0,608.3 735.4,609.7 735.4,563.8 735.8,564.9 735.8,611.1 735.9,607.4 735.9,565.7 736.4,567.1 736.4,610.3 736.9,612.2 736.9,566.4 737.4,567.7 737.4,615.2 737.5,615.8 737.5,568.0 737.9,566.9 737.9,620.4 738.4,623.4 738.4,564.9 738.9,562.3 738.9,624.0 739.2,625.8 739.2,561.1 739.4,560.3 739.4,624.1 739.9,620.4 739.9,560.1 740.0,559.7 740.0,619.6 740.4,616.1 740.4,560.2 740.9,561.0 740.9,611.0 741.4,606.6 741.4,561.6 741.7,561.9 741.7,604.0 741.9,605.0 741.9,556.9 742.4,557.5 742.4,605.3 742.9,610.3 742.9,563.6 743.4,564.2 743.4,610.6 743.9,606.2 743.9,564.3 744.2,564.7 744.2,606.4 744.4,606.5 744.4,564.0 744.9,562.4 744.9,605.6 745.0,605.7 745.0,562.0 745.4,560.6 745.4,606.5 745.9,612.8 745.9,559.2 746.4,557.5 746.4,613.8 746.9,610.9 746.9,553.6 747.4,551.8 747.4,611.9 747.5,612.2 747.5,551.5 747.9,553.9 747.9,611.4 748.3,612.2 748.3,555.9 748.4,556.4 748.4,612.0 748.9,612.9 748.9,558.2 749.2,559.7 749.2,612.3 749.4,611.9 749.4,559.6 749.9,552.5 749.9,612.4 750.4,611.5 750.4,552.2 750.9,556.2 750.9,608.3 751.4,607.4 751.4,556.0 751.9,558.7 751.9,609.6 752.0,609.5 752.0,558.7 752.4,558.5 752.4,607.0 752.5,606.4 752.5,558.4 752.9,560.1 752.9,603.1 753.4,600.0 753.4,559.9 753.9,558.6 753.9,593.7 754.4,590.7 754.4,558.4 754.9,554.1 754.9,588.5 755.4,585.4 755.4,553.9 755.8,553.7 755.8,582.9 755.9,592.7 755.9,556.8 756.4,556.6 756.4,594.6 756.7,595.8 756.7,556.4 756.9,555.5 756.9,588.6 757.4,590.6 757.4,553.3 757.5,552.9 757.5,590.9 757.9,588.1 757.9,552.4 758.4,550.3 758.4,586.4 758.9,584.5 758.9,547.2 759.2,545.9 759.2,583.5 759.4,582.8 759.4,547.0 759.9,551.4 759.9,580.5 760.0,580.2 760.0,551.9"/>
<polyline stroke="#ff0000" points="402.4,671.5 402.4,644.3 402.9,642.6 402.9,673.1 403.4,673.8 403.4,641.6 403.9,639.2 403.9,673.6 404.2,674.0 404.2,638.6 404.4,638.2 404.4,674.3 404.9,678.4 404.9,639.9 405.4,639.0 405.4,679.1 405.8,679.7 405.8,638.3 405.9,638.0 405.9,676.3 406.4,676.1 406.4,637.1 406.9,628.1 406.9,683.7 407.4,683.5 407.4,627.2 407.5,627.0 407.5,683.5 407.9,677.0 407.9,635.5 408.4,635.8 408.4,676.8 408.9,675.6 408.9,635.9 409.4,636.2 409.4,675.4 409.9,678.2 409.9,636.3 410.0,636.3 410.0,678.2 410.4,677.4 410.4,636.6 410.8,636.9 410.8,676.7 410.9,674.9 410.9,635.6 411.4,634.4 411.4,674.0 411.9,673.5 411.9,634.0 412.0,633.7 412.0,673.3 412.4,672.6 412.4,633.2 412.4,670.9 412.4,317.2 412.8,316.0 413.2,317.2 413.2,670.9 412.9,631.3 412.9,669.2 413.3,668.5 413.3,630.8 413.4,630.6 413.4,668.5 412.5,670.3 412.5,589.2 413.8,588.0 412.0,670.4 412.0,607.2 414.0,606.0 416.0,607.2 416.0,670.4 415.1,589.2 415.1,670.3 413.9,670.9 413.9,629.4 414.4,628.7 414.4,671.2 414.9,669.4 414.9,630.1 415.4,629.4 415.4,669.7 415.5,669.7 415.5,629.3 415.9,621.6 415.9,670.4 416.4,670.7 416.4,616.1 416.7,612.8 416.7,670.9 416.9,670.0 416.9,614.0 417.4,616.4 417.4,658.5 417.5,656.3 417.5,616.9 417.9,615.5 417.9,654.6 418.0,654.4 418.0,616.0 418.4,616.4 418.4,653.6 418.9,650.6 418.9,616.4 419.4,616.9 419.4,649.6 419.9,647.7 419.9,620.3 420.0,620.4 420.0,647.5 420.4,647.4 420.4,620.6 420.9,621.7 420.9,650.1 421.4,649.9 421.4,621.9 421.9,624.1 421.9,646.6 422.4,646.4 422.4,624.3 422.9,624.4 422.9,649.9 423.4,649.7 423.4,624.6 423.9,624.6 423.9,648.8 424.2,648.7 424.2,624.7 424.4,624.5 424.4,648.6 424.9,646.2 424.9,623.4 425.0,623.3 425.0,646.1 425.4,645.7 425.4,622.9 425.9,618.9 425.9,647.5 426.4,646.9 426.4,618.4 426.9,621.5 426.9,645.0 427.4,644.4 427.4,621.0 427.9,619.4 427.9,645.7 428.4,645.1 428.4,618.9 428.9,613.2 428.9,642.2 429.2,641.9 429.2,612.9 429.4,612.7 429.4,642.2 429.9,642.1 429.9,620.6 430.4,620.2 430.4,642.9 430.9,650.4 430.9,618.7 431.4,618.3 431.4,651.1 431.9,652.9 431.9,616.5 432.4,616.1 432.4,653.7 432.5,653.8 432.5,616.0 432.9,619.1 432.9,651.0 433.4,651.3 433.4,620.8 433.9,615.9 433.9,646.8 434.4,647.0 434.4,617.6 434.9,625.4 434.9,650.9 435.4,651.2 435.4,627.1 435.8,628.4 435.8,651.4 435.9,648.9 435.9,628.7 436.4,628.4 436.4,649.1 436.9,648.9 436.9,626.1 437.4,625.8 437.4,649.1 437.9,652.0 437.9,628.0 438.3,627.8 438.3,652.2 438.4,652.3 438.4,627.8 438.9,626.7 438.9,649.9 439.4,650.6 439.4,626.4 439.9,627.3 439.9,651.1 440.0,651.3 440.0,627.2 440.4,626.8 440.4,651.8 440.9,653.0 440.9,626.6 441.4,626.1 441.4,653.7 441.9,655.8 441.9,625.0 442.4,624.5 442.4,656.5 442.5,656.7 442.5,624.4 442.9,623.9 442.9,656.9 443.4,656.6 443.4,623.4 443.9,621.1 443.9,654.2 444.2,654.0 444.2,620.8 444.4,620.8 444.4,653.9 444.9,655.9 444.9,621.4 445.4,621.3 445.4,655.6 445.9,656.4 445.9,616.0 446.4,615.9 446.4,656.1 446.7,655.9 446.7,615.8 446.9,621.7 446.9,652.9 447.4,653.4 447.4,621.6 447.5,621.6 447.5,653.5 447.9,655.2 447.9,623.7 448.4,624.7 448.4,655.7 448.9,654.6 448.9,625.0 449.4,626.0 449.4,655.1 449.9,656.4 449.9,627.1 450.4,628.1 450.4,656.9 450.8,657.3 450.8,628.9 450.9,629.3 450.9,659.0 451.4,658.4 451.4,628.6 451.9,628.1 451.9,663.1 452.4,662.4 452.4,627.4 452.9,626.2 452.9,656.6 453.4,655.9 453.4,625.5 453.9,618.3 453.9,652.7 454.4,652.1 454.4,617.6 454.5,617.4 454.5,651.9 454.9,653.1 454.9,624.0 455.0,624.2 455.0,653.0 455.4,653.2 455.4,625.0 455.9,625.2 455.9,652.0 456.4,652.3 456.4,626.1 456.9,628.8 456.9,651.9 457.4,652.2 457.4,629.7 457.9,630.9 457.9,656.2 458.3,656.4 458.3,631.7 458.4,631.6 458.4,656.5 458.9,657.3 458.9,631.8 459.2,631.8 459.2,657.5 459.4,657.5 459.4,631.8 459.9,629.7 459.9,655.7 460.4,655.8 460.4,629.7 460.9,630.2 460.9,654.0 461.4,654.1 461.4,630.1 461.9,630.3 461.9,655.0 462.4,655.1 462.4,630.2 462.5,630.2 462.5,655.1 462.9,663.1 462.9,628.4 463.3,628.3 463.3,670.0 463.4,670.1 463.4,628.9 463.9,634.6 463.9,669.2 464.4,669.8 464.4,637.5 464.9,640.0 464.9,671.6 465.0,671.8 465.0,640.6 465.4,641.0 465.4,672.2 465.9,673.8 465.9,639.7 466.4,640.2 466.4,674.4 466.7,674.8 466.7,640.5 466.9,638.6 466.9,672.4 467.4,672.1 467.4,639.1 467.9,644.0 467.9,673.2 468.3,673.0 468.3,644.4 468.4,644.2 468.4,672.9 468.9,670.6 468.9,635.6 469.4,634.5 469.4,670.2 469.9,671.6 469.9,639.8 470.4,638.7 470.4,671.2 470.8,671.0 470.8,637.9 470.9,639.2 470.9,670.6 471.4,671.4 471.4,638.2 471.7,637.5 471.7,671.9 471.9,675.7 471.9,637.6 472.4,637.9 472.4,676.5 472.9,673.0 472.9,638.1 472.7,674.0 472.7,124.2 473.0,123.0 473.3,124.2 473.3,674.0 473.4,638.5 473.4,673.8 473.9,674.5 473.9,635.9 474.4,636.3 474.4,675.3 474.9,677.7 474.9,637.6 475.4,638.0 475.4,678.5 475.8,679.2 475.8,638.3 475.9,632.3 475.9,678.3 476.4,677.3 476.4,632.7 476.7,632.9 476.7,676.7 476.9,679.2 476.9,640.6 477.4,640.2 477.4,678.2 477.9,675.1 477.9,639.6 478.3,639.3 478.3,674.3 478.4,674.6 478.4,639.2 478.9,636.9 478.9,674.8 479.4,676.1 479.4,636.5 479.3,677.2 479.3,567.9 479.7,566.7 480.1,567.9 480.1,677.2 479.9,637.2 479.9,684.5 480.4,685.8 480.4,636.8 480.9,635.3 480.9,679.9 481.2,680.7 481.2,635.1 481.4,634.9 481.4,680.3 481.9,680.3 481.9,636.7 482.4,636.3 482.4,679.3 482.9,679.5 482.9,634.7 483.3,634.4 483.3,678.7 483.4,678.5 483.4,634.5 483.9,636.4 483.9,677.2 484.4,676.2 484.4,636.9 484.9,629.5 484.9,676.8 485.0,676.6 485.0,629.6 485.4,630.0 485.4,677.4 485.9,675.4 485.9,638.6 486.4,639.1 486.4,676.4 486.7,677.0 486.7,639.4 486.9,639.0 486.9,678.6 487.4,679.6 487.4,638.6 487.5,638.6 487.5,679.8 487.9,676.1 487.9,635.9 488.4,635.5 488.4,674.7 488.9,676.5 488.9,637.7 489.4,637.3 489.4,675.1 489.9,671.4 489.9,633.0 490.0,632.9 490.0,671.2 490.4,670.0 490.4,633.4 490.9,635.5 490.9,676.0 491.4,674.7 491.4,636.1 491.7,636.5 491.7,673.8 491.9,665.5 491.9,633.6 492.4,634.3 492.4,665.3 492.9,671.2 492.9,637.5 493.3,638.0 493.3,671.0 493.4,670.9 493.4,638.0 493.9,639.2 493.9,672.7 494.4,672.4 494.4,639.2 494.9,640.5 494.9,665.0 495.0,664.9 495.0,640.5 495.4,640.5 495.4,665.5 495.9,665.6 495.9,635.8 495.9,667.3 495.9,283.2 496.3,282.0 496.7,283.2 496.7,667.3 496.4,635.8 496.4,666.4 496.9,667.3 496.9,640.2 497.4,640.2 497.4,668.1 497.9,668.4 497.9,639.0 498.3,639.0 498.3,669.0 498.4,669.1 498.4,639.0 498.9,640.5 498.9,670.1 499.4,670.7 499.4,640.5 499.9,636.8 499.9,671.5 500.4,672.2 500.4,636.8 500.9,639.2 500.9,672.3 501.4,672.9 501.4,639.2 501.7,639.2 501.7,673.3 501.9,677.6 501.9,636.9 502.4,636.5 502.4,678.2 502.9,676.3 502.9,632.9 503.3,632.5 503.3,676.8 503.4,676.5 503.4,632.4 503.9,639.3 503.9,675.0 504.4,673.5 504.4,638.9 504.9,634.9 504.9,672.4 505.0,672.1 505.0,634.8 505.4,634.5 505.4,670.9 505.9,674.0 505.9,636.1 506.4,635.7 506.4,672.5 506.7,671.6 506.7,635.4 506.9,632.7 506.9,670.1 507.4,672.7 507.4,632.3 507.9,633.7 507.9,672.8 508.4,675.4 508.4,633.3 508.9,634.5 508.9,678.6 509.2,680.1 509.2,634.3 509.4,634.1 509.4,679.8 509.9,678.0 509.9,634.4 510.0,634.3 510.0,677.8 509.6,678.8 509.6,595.2 510.0,594.0 510.4,595.2 510.4,678.8 510.4,677.2 510.4,634.6 510.9,628.0 510.9,676.2 511.4,675.4 511.4,628.3 511.9,634.2 511.9,674.9 512.4,674.1 512.4,634.5 512.9,635.4 512.9,676.1 513.3,675.4 513.3,635.6 513.4,635.7 513.4,675.6 513.9,674.4 513.9,631.7 514.4,632.0 514.4,675.2 514.9,674.9 514.9,636.9 515.0,636.9 515.0,675.0 515.4,675.6 515.4,638.0 515.9,634.8 515.9,676.7 516.4,677.5 516.4,636.1 516.9,640.5 516.9,679.0 517.4,679.7 517.4,641.8 517.5,642.0 517.5,679.9 517.9,680.8 517.9,645.0 518.3,646.0 518.3,680.8 518.4,680.8 518.4,645.8 518.9,644.8 518.9,678.5 519.4,678.5 519.4,643.8 519.9,636.5 519.9,678.4 520.4,678.4 520.4,635.6 520.8,634.8 520.8,678.4 520.9,678.4 520.9,638.6 521.4,637.7 521.4,677.5 521.7,676.9 521.7,637.1 521.9,639.0 521.9,678.0 522.4,677.1 522.4,638.9 522.9,637.6 522.9,675.0 523.3,674.2 523.3,637.4 523.4,637.4 523.4,674.3 523.9,679.2 523.9,638.6 523.6,675.7 523.6,333.2 524.0,332.0 524.4,333.2 524.4,675.7 524.4,638.5 524.4,679.5 524.9,678.2 524.9,638.1 525.4,637.9 525.4,678.5 525.9,675.8 525.9,638.0 526.4,637.8 526.4,676.1 526.9,684.3 526.9,631.9 527.4,631.7 527.4,684.6 527.5,684.6 527.5,631.7 527.9,635.5 527.9,676.8 528.3,676.9 528.3,635.3 528.4,635.4 528.4,676.9 528.9,678.2 528.9,638.0 529.4,638.5 529.4,678.3 529.9,680.9 529.9,639.0 530.4,639.5 530.4,681.0 530.9,678.8 530.9,639.9 531.4,640.4 531.4,679.0 531.7,679.0 531.7,640.7 531.9,632.8 531.9,675.8 532.4,671.5 532.4,632.6 532.9,633.4 532.9,667.2 533.3,663.8 533.3,633.3 533.4,633.2 533.4,663.1 533.9,659.6 533.9,637.5 534.4,637.3 534.4,656.3 534.9,654.0 534.9,639.7 535.0,639.6 535.0,653.4 534.9,653.6 534.9,354.7 535.3,353.5 535.6,354.7 535.6,653.6 535.4,653.2 535.4,639.5 535.9,638.8 535.9,654.9 536.0,654.9 536.0,638.7 536.4,638.2 536.4,654.7 536.9,659.9 536.9,636.5 537.4,635.8 537.4,659.7 537.9,653.8 537.9,636.5 538.4,635.8 538.4,653.7 538.9,652.6 538.9,635.2 539.4,634.6 539.4,652.5 539.9,658.9 539.9,634.5 540.0,634.4 540.0,658.8 540.4,658.7 540.4,633.6 540.9,625.0 540.9,652.0 541.4,651.8 541.4,624.1 541.9,626.8 541.9,654.0 542.4,653.8 542.4,625.8 542.9,621.0 542.9,650.4 543.4,650.2 543.4,620.0 543.9,625.6 543.9,649.7 544.2,649.6 544.2,625.0 544.4,624.8 544.4,649.5 544.9,650.7 544.9,624.4 545.0,624.3 545.0,650.6 545.4,650.7 545.4,624.0 545.9,617.3 545.9,649.5 546.4,649.6 546.4,616.9 546.9,622.4 546.9,652.6 547.4,652.7 547.4,621.9 547.9,622.3 547.9,651.2 548.0,651.2 548.0,622.2 548.4,623.1 548.4,651.2 548.9,648.8 548.9,622.0 549.4,623.2 549.4,648.8 549.9,651.9 549.9,627.1 550.0,627.4 550.0,651.9 550.4,651.6 550.4,628.3 550.8,629.3 550.8,651.4 550.9,656.5 550.9,628.2 551.4,627.8 551.4,656.2 551.9,649.4 551.9,623.4 552.4,623.0 552.4,649.1 552.3,648.6 552.3,358.2 552.6,357.0 552.9,358.2 552.9,648.6 552.9,653.4 552.9,626.1 552.1,648.1 552.1,601.2 553.3,600.0 554.5,601.2 554.5,648.1 553.4,625.8 553.4,653.1 553.4,647.8 553.4,238.2 553.8,237.0 554.2,238.2 554.2,647.8 553.9,647.6 553.9,627.1 554.4,626.7 554.4,647.3 554.9,652.0 554.9,622.5 555.0,622.5 555.0,651.9 555.4,652.5 555.4,622.6 555.9,625.9 555.9,648.6 556.4,649.3 556.4,626.2 556.9,623.8 556.9,649.3 557.4,650.0 557.4,624.0 556.3,650.4 556.3,587.9 557.5,586.7 558.7,587.9 558.7,650.4 557.9,627.2 557.9,650.4 558.4,651.0 558.4,627.5 558.9,626.4 558.9,656.2 559.4,656.8 559.4,626.6 559.9,625.8 559.9,652.8 560.0,653.0 560.0,625.8 560.4,626.0 560.4,653.0 560.9,655.5 560.9,626.8 561.4,627.0 561.4,655.5 561.7,655.5 561.7,627.2 561.9,629.1 561.9,657.3 562.4,657.3 562.4,629.2 562.9,629.5 562.9,654.2 563.4,654.2 563.4,629.6 563.4,653.7 563.4,519.5 563.8,518.3 564.1,519.5 564.1,653.7 563.9,628.9 563.9,655.3 564.4,655.3 564.4,629.0 564.9,622.0 564.9,660.5 565.0,660.5 565.0,622.0 565.4,622.1 565.4,660.4 565.9,652.0 565.9,630.4 566.4,630.5 566.4,651.8 566.9,651.8 566.9,629.4 567.4,629.5 567.4,651.7 567.9,651.6 567.9,624.5 568.3,624.6 568.3,651.5 568.4,651.4 568.4,624.7 568.9,631.7 568.9,653.5 569.4,653.4 569.4,632.2 569.9,630.9 569.9,652.5 570.0,652.4 570.0,631.0 570.4,631.4 570.4,652.7 570.9,653.3 570.9,633.1 571.4,633.5 571.4,653.6 571.7,653.8 571.7,633.8 571.9,633.7 571.9,651.8 572.4,652.1 572.4,634.1 572.9,633.7 572.9,653.7 573.4,654.0 573.4,634.2 573.9,635.8 573.9,657.0 574.4,657.3 574.4,636.3 574.9,631.4 574.9,655.9 575.0,656.0 575.0,631.5 575.4,631.3 575.4,655.9 575.9,655.8 575.9,635.6 576.4,635.4 576.4,655.7 576.9,653.6 576.9,633.4 577.4,633.2 577.4,653.5 577.9,653.9 577.9,635.9 578.3,635.8 578.3,653.8 578.4,653.8 578.4,635.7 578.9,627.3 578.9,653.7 579.4,653.6 579.4,626.8 579.9,632.5 579.9,653.2 580.0,653.1 580.0,632.4 580.4,632.2 580.4,652.9 580.9,654.8 580.9,634.0 581.4,633.7 581.4,654.5 581.9,652.7 581.9,627.5 582.4,627.2 582.4,652.3 582.9,650.3 582.9,628.3 583.3,628.1 583.3,650.0 583.4,650.0 583.4,628.1 583.9,628.5 583.9,651.5 584.4,651.2 584.4,628.4 584.9,630.8 584.9,652.9 585.0,652.8 585.0,630.8 585.4,630.6 585.4,652.9 585.9,649.3 585.9,627.1 586.4,626.9 586.4,649.5 586.9,651.0 586.9,629.3 587.4,629.1 587.4,651.2 587.9,650.2 587.9,628.5 588.3,628.4 588.3,650.3 588.4,650.4 588.4,628.3 588.9,630.5 588.9,653.9 589.2,654.0 589.2,630.2 589.4,630.2 589.4,654.1 589.9,652.9 589.9,629.3 590.0,629.4 590.0,652.9 590.4,653.7 590.4,629.5 590.9,629.6 590.9,653.2 591.4,654.2 591.4,629.8 591.9,628.8 591.9,656.0 592.4,657.0 592.4,628.9 592.9,626.8 592.9,660.4 593.4,661.4 593.4,627.0 593.9,629.8 593.9,659.1 594.2,659.6 594.2,629.9 594.4,630.2 594.4,659.4 594.9,664.0 594.9,630.9 595.4,631.6 595.4,663.4 595.9,664.7 595.9,633.3 596.4,633.9 596.4,664.1 596.9,657.9 596.9,634.9 597.4,635.6 597.4,657.3 597.9,655.1 597.9,635.7 598.3,636.3 598.3,654.6 598.4,654.6 598.4,636.3 598.9,637.7 598.9,655.2 599.4,655.4 599.4,638.0 599.9,637.2 599.9,658.4 600.4,658.7 600.4,637.4 600.9,635.8 600.9,657.5 601.4,657.7 601.4,636.0 601.9,637.4 601.9,656.1 602.4,656.3 602.4,637.7 602.5,637.7 602.5,656.4 602.9,656.9 602.9,630.3 603.3,629.5 603.3,657.1 603.4,656.9 603.4,629.3 603.9,635.9 603.9,655.2 604.4,654.1 604.4,634.9 604.9,630.3 604.9,652.8 605.4,651.7 605.4,629.2 605.8,628.4 605.8,650.8 605.9,651.2 605.9,630.8 606.4,631.3 606.4,650.1 606.7,649.4 606.7,631.6 606.9,631.4 606.9,650.5 607.4,651.5 607.4,631.9 607.9,633.5 607.9,652.4 608.4,653.4 608.4,634.0 608.9,635.1 608.9,657.1 609.4,658.1 609.4,635.6 609.9,634.3 609.9,660.4 610.4,661.4 610.4,634.8 610.8,635.2 610.8,662.2 610.9,662.6 610.9,634.0 611.4,633.3 611.4,663.6 611.9,659.9 611.9,634.5 612.4,633.9 612.4,660.9 612.5,661.1 612.5,633.7 612.9,634.7 612.9,666.9 613.4,666.3 613.4,634.1 613.9,633.2 613.9,660.9 614.4,660.3 614.4,632.6 614.9,629.6 614.9,657.7 615.0,657.6 615.0,629.5 615.4,629.9 615.4,657.1 615.9,657.1 615.9,628.8 616.4,629.2 616.4,656.5 616.7,656.2 616.7,629.4 616.9,633.5 616.9,657.0 617.4,656.8 617.4,633.9 617.9,631.2 617.9,657.3 618.4,657.1 618.4,631.6 618.9,631.6 618.9,659.9 619.4,659.7 619.4,632.0 619.9,635.6 619.9,656.6 620.0,656.6 620.0,635.7 620.4,635.9 620.4,656.4 620.9,654.1 620.9,633.1 621.4,633.4 621.4,653.9 621.7,653.8 621.7,633.5 621.9,635.3 621.9,658.6 622.4,659.0 622.4,635.5 622.9,634.6 622.9,654.8 623.4,655.2 623.4,634.9 623.9,632.6 623.9,656.1 624.4,656.5 624.4,632.8 624.9,638.1 624.9,658.2 625.0,658.3 625.0,638.2 625.4,638.0 625.4,658.7 625.8,659.0 625.8,637.8 625.9,637.8 625.9,657.2 626.4,656.8 626.4,637.6 626.9,632.2 626.9,660.4 627.4,660.0 627.4,631.9 627.9,636.4 627.9,656.1 628.4,655.7 628.4,636.2 628.9,634.9 628.9,655.7 629.4,655.3 629.4,634.7 628.9,655.7 628.9,561.2 629.5,560.0 630.1,561.2 630.1,655.7 629.9,629.3 629.9,655.1 630.0,655.0 630.0,629.3 630.4,629.1 630.4,654.7 630.9,653.8 630.9,632.9 631.4,632.7 631.4,653.4 629.0,654.1 629.0,613.2 631.5,612.0 634.0,613.2 634.0,654.1 631.9,652.3 631.9,626.6 632.4,626.4 632.4,651.9 632.9,651.9 632.9,634.4 632.4,652.9 632.4,544.5 633.0,543.3 633.6,544.5 633.6,652.9 633.4,634.1 633.4,651.5 633.9,651.2 633.9,633.8 634.2,633.6 634.2,651.0 634.4,651.2 634.4,633.5 634.9,632.5 634.9,654.4 635.4,655.0 635.4,632.2 635.9,630.4 635.9,652.9 636.4,653.5 636.4,630.2 636.7,630.0 636.7,653.9 636.9,653.9 636.9,632.3 637.4,632.1 637.4,654.5 637.9,655.4 637.9,632.0 638.3,631.9 638.3,655.9 638.4,655.7 638.4,631.8 638.9,630.9 638.9,655.8 639.4,655.0 639.4,630.7 639.9,630.3 639.9,655.9 640.0,655.8 640.0,630.2 640.4,629.4 640.4,655.1 640.9,652.1 640.9,624.7 641.4,623.7 641.4,651.3 641.9,651.5 641.9,626.6 642.4,625.6 642.4,650.7 642.5,650.5 642.5,625.4 642.9,625.5 642.9,649.4 643.4,649.0 643.4,624.5 643.9,623.1 643.9,648.0 644.2,647.8 644.2,622.5 644.4,623.3 644.4,647.6 644.9,647.9 644.9,624.8 645.4,626.7 645.4,647.6 645.9,647.6 645.9,627.1 646.4,629.0 646.4,647.2 646.7,647.0 646.7,630.2 646.9,630.3 646.9,645.8 647.4,646.6 647.4,631.4 647.9,631.1 647.9,648.1 648.4,648.9 648.4,632.2 648.9,635.4 648.9,652.9 649.4,653.7 649.4,636.4 649.9,631.2 649.9,650.8 650.0,650.9 650.0,631.4 650.4,631.6 650.4,651.7 650.9,652.3 650.9,639.3 651.4,639.6 651.4,653.3 651.9,654.4 651.9,640.2 652.4,640.4 652.4,655.4 652.9,656.8 652.9,639.4 653.3,639.6 653.3,657.6 653.4,657.7 653.4,639.5 653.9,639.7 653.9,658.6 654.2,659.2 654.2,639.3 654.4,639.1 654.4,659.2 654.9,667.1 654.9,635.4 655.4,634.8 655.4,667.1 655.9,658.8 655.9,638.0 656.4,637.4 656.4,658.8 656.9,659.0 656.9,635.0 657.4,634.4 657.4,659.0 657.5,659.0 657.5,634.3 657.9,630.2 657.9,660.9 658.4,660.9 658.4,630.8 658.9,636.4 658.9,660.5 659.2,660.5 659.2,636.8 659.4,637.0 659.4,660.6 659.9,660.7 659.9,638.0 660.4,638.6 660.4,661.0 660.9,660.8 660.9,639.8 661.4,640.4 661.4,661.1 661.7,661.3 661.7,640.7 661.9,633.3 661.9,661.2 662.4,661.6 662.4,632.7 662.9,637.9 662.9,663.0 663.4,663.4 663.4,637.3 663.9,632.5 663.9,662.7 664.4,663.1 664.4,631.9 664.9,632.1 664.9,666.4 665.0,666.5 665.0,632.0 665.4,631.5 665.4,666.1 665.9,664.2 665.9,631.3 666.4,630.8 666.4,663.8 666.7,663.5 666.7,630.4 666.9,635.3 666.9,662.2 667.4,661.8 667.4,635.7 667.9,635.9 667.9,661.9 668.4,661.5 668.4,636.3 668.9,633.8 668.9,661.9 669.4,661.4 669.4,634.2 669.9,637.0 669.9,662.2 670.0,662.2 670.0,637.1 670.4,637.4 670.4,662.3 670.8,662.4 670.8,637.7 670.9,637.8 670.9,659.5 671.4,659.6 671.4,637.2 671.9,634.5 671.9,660.0 672.4,660.1 672.4,633.9 672.9,634.6 672.9,659.9 673.4,660.1 673.4,634.1 673.9,634.2 673.9,660.1 674.4,660.2 674.4,633.7 674.9,633.1 674.9,664.2 675.0,664.2 675.0,632.9 675.3,632.6 675.3,664.5 675.4,664.6 675.4,633.0 675.9,634.9 675.9,663.9 676.4,664.3 676.4,636.8 676.9,639.3 676.9,663.6 677.4,664.0 677.4,641.1 677.9,634.7 677.9,665.5 678.3,665.8 678.3,636.2 678.4,636.1 678.4,665.9 678.9,666.9 678.9,640.9 679.4,640.3 679.4,667.3 679.9,665.1 679.9,642.1 680.4,641.5 680.4,665.5 680.8,665.9 680.8,641.1 680.9,640.8 680.9,670.8 681.4,671.4 681.4,640.2 681.9,637.8 681.9,675.1 682.4,675.7 682.4,637.2 682.5,637.1 682.5,675.8 682.9,672.4 682.9,638.1 683.4,638.3 683.4,673.0 683.9,673.0 683.9,640.0 684.4,640.2 684.4,673.6 684.9,670.7 684.9,640.5 685.0,640.6 685.0,670.9 685.4,670.2 685.4,640.7 685.9,639.6 685.9,675.6 686.4,674.8 686.4,639.8 686.7,639.9 686.7,674.3 686.9,667.6 686.9,637.1 687.4,637.7 687.4,666.9 687.9,667.2 687.9,640.6 688.4,641.2 688.4,666.4 688.9,664.5 688.9,641.6 689.2,642.0 689.2,664.1 689.4,664.1 689.4,642.2 689.9,642.6 689.9,667.1 690.4,667.3 690.4,643.2 690.8,643.7 690.8,667.4 690.9,665.7 690.9,644.2 691.4,643.6 691.4,665.9 691.9,665.8 691.9,643.4 692.4,642.8 692.4,666.0 692.9,666.6 692.9,641.5 693.3,641.1 693.3,666.8 693.4,666.8 693.4,641.0 693.9,642.0 693.9,669.8 694.4,669.7 694.4,641.4 694.9,640.7 694.9,666.8 695.0,666.8 695.0,640.5 695.4,640.1 695.4,666.7 695.9,665.6 695.9,639.8 696.4,639.3 696.4,665.5 696.9,665.8 696.9,639.0 697.4,638.4 697.4,665.7 697.9,665.4 697.9,632.7 698.3,632.3 698.3,665.4 698.4,665.4 698.4,632.2 698.7,631.8 698.7,665.4 698.9,668.5 698.9,636.2 699.4,637.2 699.4,668.6 699.9,667.9 699.9,639.4 700.4,640.4 700.4,668.0 700.9,667.8 700.9,640.4 701.4,641.4 701.4,667.9 701.9,667.1 701.9,640.1 702.4,641.0 702.4,667.2 702.5,667.2 702.5,641.2 702.9,644.2 702.9,673.8 703.3,673.8 703.3,644.5 703.4,644.6 703.4,673.8 703.9,666.8 703.9,645.0 704.4,645.4 704.4,666.6 704.9,665.0 704.9,643.0 705.4,643.4 705.4,664.8 705.9,666.0 705.9,647.0 706.4,647.4 706.4,665.9 706.7,665.8 706.7,647.6 706.9,647.7 706.9,666.7 707.4,666.6 707.4,647.3 707.9,640.6 707.9,672.3 708.3,672.1 708.3,640.3 708.4,640.2 708.4,672.3 708.9,664.9 708.9,645.7 709.4,645.3 709.4,665.6 708.5,667.5 708.5,501.2 709.8,500.0 711.1,501.2 711.1,667.5 709.9,668.1 709.9,643.4 709.2,667.9 709.2,447.9 710.0,446.7 710.8,447.9 710.8,667.9 710.4,643.0 710.4,668.9 710.9,670.0 710.9,642.5 711.4,642.1 711.4,670.7 711.9,669.9 711.9,643.3 712.4,643.0 712.4,670.6 712.9,671.0 712.9,643.0 713.3,642.7 713.3,671.6 713.4,671.6 713.4,642.6 713.9,642.1 713.9,672.3 714.2,672.2 714.2,641.9 714.4,642.0 714.4,672.2 714.9,671.0 714.9,634.0 715.4,634.2 715.4,670.9 715.9,670.9 715.9,641.6 716.4,641.8 716.4,670.8 716.3,672.1 716.3,308.2 716.8,307.0 717.2,308.2 717.2,672.1 716.9,673.7 716.9,643.3 717.4,643.5 717.4,673.6 717.5,673.6 717.5,643.6 717.9,642.3 717.9,675.3 718.4,675.6 718.4,642.6 718.9,641.5 718.9,675.6 719.4,675.9 719.4,641.7 719.0,673.4 719.0,521.2 719.6,520.0 720.2,521.2 720.2,673.4 719.9,643.0 719.9,674.8 720.4,675.2 720.4,643.2 720.9,642.0 720.9,672.9 721.4,673.3 721.4,642.3 721.9,638.9 721.9,676.6 722.4,677.0 722.4,639.1 722.5,639.2 722.5,677.0 722.9,673.6 722.9,643.0 723.4,643.2 723.4,673.0 723.0,674.0 723.0,394.2 723.6,393.0 724.2,394.2 724.2,674.0 723.9,674.3 723.9,645.9 724.4,646.2 724.4,673.7 724.9,671.6 724.9,646.0 725.4,646.2 725.4,671.1 725.9,671.4 725.9,647.5 726.4,647.7 726.4,670.8 726.7,670.4 726.7,647.9 726.9,645.5 726.9,669.3 727.4,669.8 727.4,644.5 727.9,643.1 727.9,670.7 728.4,671.2 728.4,642.1 728.9,640.7 728.9,673.9 729.2,674.2 729.2,640.1 729.4,640.6 729.4,674.4 729.9,673.6 729.9,644.2 730.4,645.2 730.4,674.1 730.9,677.7 730.9,642.8 731.4,643.8 731.4,678.2 731.7,678.5 731.7,644.4 731.9,645.3 731.9,674.4 732.4,674.2 732.4,646.3 732.9,642.8 732.9,674.9 733.3,674.7 733.3,643.6 733.4,643.6 733.4,674.7 733.9,673.2 733.9,650.1 734.4,650.0 734.4,673.0 734.9,673.6 734.9,648.7 735.4,648.6 735.4,673.4 735.8,673.2 735.8,648.6 735.9,645.1 735.9,676.9 736.4,676.7 736.4,645.0 736.9,649.8 736.9,676.3 737.4,676.1 737.4,649.7 737.9,649.9 737.9,671.4 738.3,671.3 738.3,649.9 738.4,650.0 738.4,671.2 738.9,672.7 738.9,642.6 739.4,643.1 739.4,672.5 739.9,676.8 739.9,648.4 740.0,648.5 740.0,676.8 740.4,677.1 740.4,648.9 740.9,650.4 740.9,673.5 741.4,673.9 741.4,650.9 741.9,651.8 741.9,675.8 742.4,676.2 742.4,652.3 742.5,652.4 742.5,676.2 742.9,672.8 742.9,652.1 743.4,651.6 743.4,673.2 743.9,674.9 743.9,651.8 744.2,651.5 744.2,675.1 744.4,675.3 744.4,651.3 744.9,652.1 744.9,680.9 745.0,681.0 745.0,652.0 745.4,652.7 745.4,681.4 745.9,676.2 745.9,652.0 746.4,652.9 746.4,676.7 746.9,676.8 746.9,652.3 747.4,653.1 747.4,677.3 747.9,679.2 747.9,651.1 748.3,651.8 748.3,679.6 748.4,679.5 748.4,651.8 748.9,657.2 748.9,678.5 749.4,678.1 749.4,657.1 749.9,657.1 749.9,677.2 750.4,676.8 750.4,657.0 750.9,655.0 750.9,676.8 750.8,677.3 750.8,366.5 751.1,365.3 751.4,366.5 751.4,677.3 751.4,676.4 751.4,654.9 751.9,657.0 751.9,678.2 752.4,677.8 752.4,656.9 752.5,656.9 752.5,677.7 752.9,681.2 752.9,653.3 753.4,653.3 753.4,680.7 752.9,675.1 752.9,324.2 753.6,323.0 754.3,324.2 754.3,675.1 753.9,673.3 753.9,656.7 754.4,656.6 754.4,672.8 754.9,673.5 754.9,655.2 755.4,655.1 755.4,673.0 755.9,672.4 755.9,650.5 756.0,650.5 756.0,672.3 756.4,671.9 756.4,650.3 756.7,650.2 756.7,671.6 756.9,672.3 756.9,655.3 757.4,655.0 757.4,672.1 757.9,673.0 757.9,655.1 758.3,654.9 758.3,672.8 758.4,672.7 758.4,655.0 758.9,653.8 758.9,670.7 759.4,670.4 759.4,654.6 759.9,654.3 759.9,673.3 760.0,673.3 760.0,654.4"/>
</g>
<g stroke="#000" stroke-width="1.11" fill="none">
<line x1="150.5" y1="712.5" x2="150.5" y2="717.4"/>
<line x1="266.5" y1="712.5" x2="266.5" y2="717.4"/>
<line x1="383.5" y1="712.5" x2="383.5" y2="717.4"/>
<line x1="499.5" y1="712.5" x2="499.5" y2="717.4"/>
<line x1="615.5" y1="712.5" x2="615.5" y2="717.4"/>
<line x1="731.5" y1="712.5" x2="731.5" y2="717.4"/>
<line x1="848.5" y1="712.5" x2="848.5" y2="717.4"/>
<line x1="964.5" y1="712.5" x2="964.5" y2="717.4"/>
<line x1="1080.5" y1="712.5" x2="1080.5" y2="717.4"/>
<line x1="145.6" y1="684.5" x2="150.5" y2="684.5"/>
<line x1="145.6" y1="562.5" x2="150.5" y2="562.5"/>
<line x1="145.6" y1="439.5" x2="150.5" y2="439.5"/>
<line x1="145.6" y1="317.5" x2="150.5" y2="317.5"/>
<line x1="145.6" y1="195.5" x2="150.5" y2="195.5"/>
<rect x="150.5" y="96.5" width="930" height="616"/>
</g>
<g font-size="20.83px">
<text x="143" y="737.9">0</text>
<text x="260" y="737.9">3</text>
<text x="376" y="737.9">6</text>
<text x="492" y="737.9">9</text>
<text x="602" y="737.9">12</text>
<text x="718" y="737.9">15</text>
<text x="834" y="737.9">18</text>
<text x="950.5" y="737.9">21</text>
<text x="1067" y="737.9">24</text>
<text x="140.28" y="691.9" text-anchor="end">0</text>
<text x="140.28" y="569.9" text-anchor="end">2</text>
<text x="140.28" y="446.9" text-anchor="end">4</text>
<text x="140.28" y="324.9" text-anchor="end">6</text>
<text x="140.28" y="202.9" text-anchor="end">8</text>
<text x="615" y="763.27" text-anchor="middle">Universal Time [h]</text>
<text transform="translate(115.4 404) rotate(-90)" text-anchor="middle">Y-factor [dB]</text>
<text x="615" y="87.67" text-anchor="middle">SWISS-MUHEN of 2020/11/06 with focus code = 01</text>
</g>
<rect x="897.5" y="104.3" width="175" height="83.9" rx="3.3" ry="3.3" fill="#fff" fill-opacity="0.8" stroke="#ccc" stroke-opacity="0.8" stroke-width="1.39"/>
<line x1="903" y1="119" x2="938" y2="119" stroke="#0000ff" stroke-width="2.08"/>
<text x="960.7" y="124.35" font-size="16.6px">25.625 MHz</text>
<line x1="903" y1="146" x2="938" y2="146" stroke="#008000" stroke-width="2.08"/>
<text x="960.7" y="150.7" font-size="16.6px">37.750 MHz</text>
<line x1="903" y1="172" x2="938" y2="172" stroke="#ff0000" stroke-width="2.08"/>
<text x="960.7" y="177.2" font-size="16.6px">71.125 MHz</text>
</svg></body></html>
